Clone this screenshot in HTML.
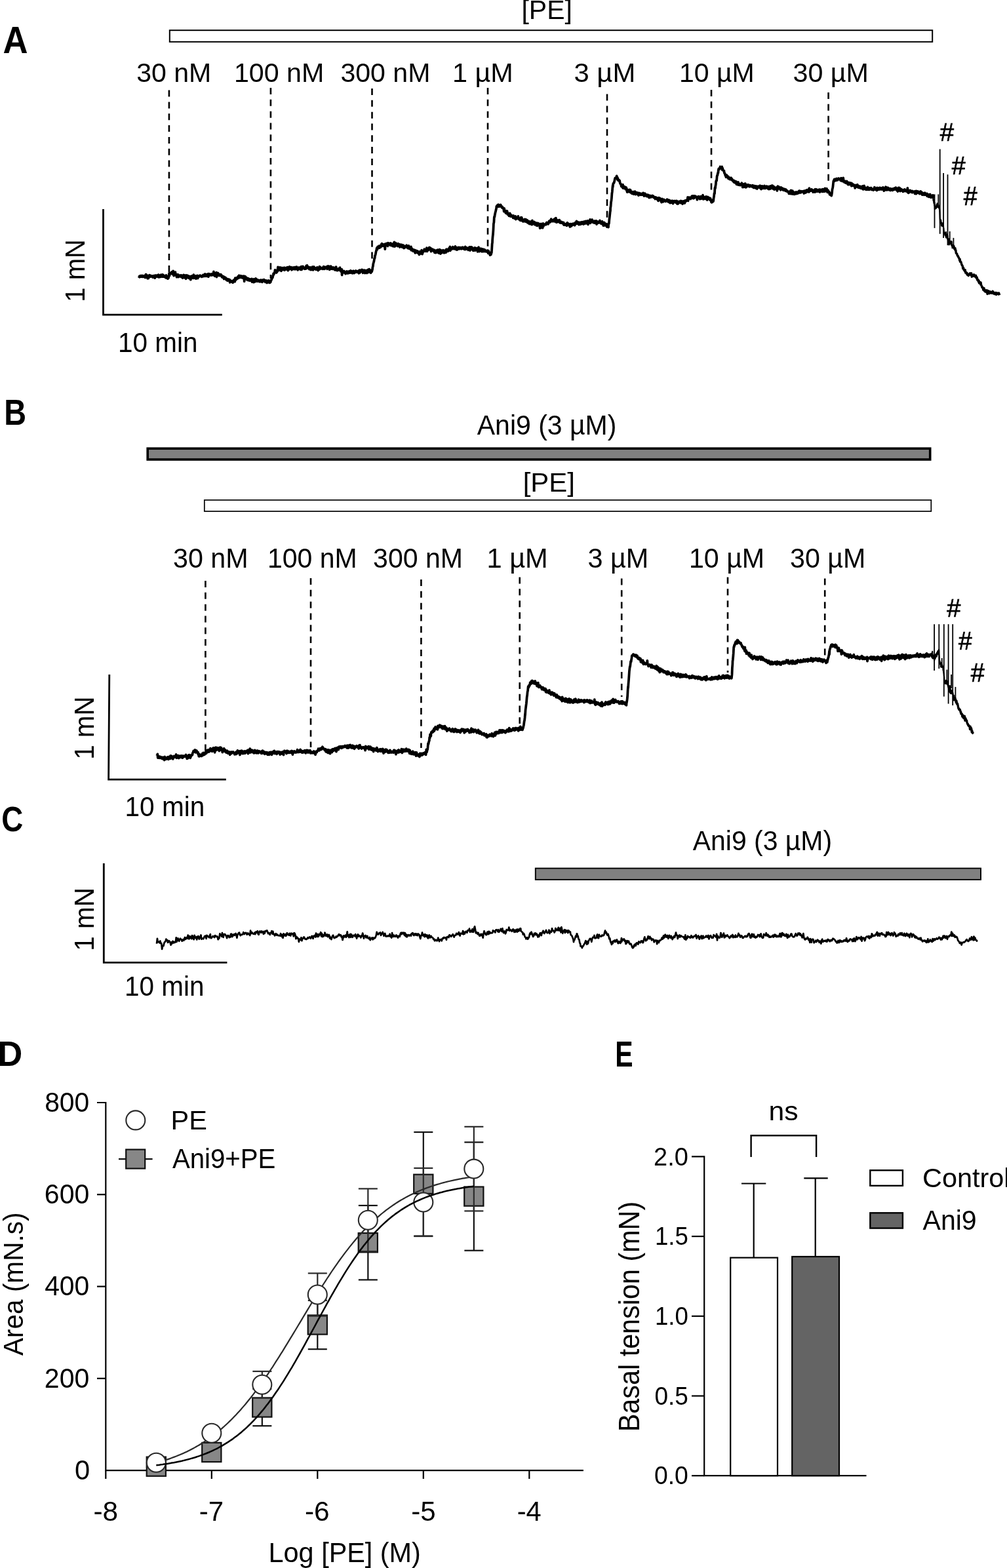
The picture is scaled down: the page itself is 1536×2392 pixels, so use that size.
<!DOCTYPE html><html><head><meta charset="utf-8"><style>html,body{margin:0;padding:0;background:#fff;overflow:hidden;}svg{display:block;}text{font-family:"Liberation Sans",Arial,sans-serif;}</style></head><body>
<svg width="1536" height="2392" viewBox="0 0 1536 2392">
<rect width="1536" height="2392" fill="#fff"/>
<text transform="translate(4.38,81.00) scale(0.9288,1)" font-size="56.73" font-weight="bold" fill="#000">A</text>
<text transform="translate(795.43,28.90) scale(1.0096,1)" font-size="40.58" fill="#000">[PE]</text>
<rect x="258.8" y="46.2" width="1163.4" height="17.6" fill="#fff" stroke="#000" stroke-width="2.0"/>
<text transform="translate(208.26,125.10) scale(0.9903,1)" font-size="41.45" fill="#000">30 nM</text>
<text transform="translate(356.91,125.10) scale(0.9945,1)" font-size="41.45" fill="#000">100 nM</text>
<text transform="translate(519.46,125.10) scale(0.9904,1)" font-size="41.45" fill="#000">300 nM</text>
<text transform="translate(689.90,125.10) scale(0.9985,1)" font-size="41.45" fill="#000">1 µM</text>
<text transform="translate(875.43,125.10) scale(1.0092,1)" font-size="41.45" fill="#000">3 µM</text>
<text transform="translate(1035.92,125.10) scale(0.9896,1)" font-size="41.45" fill="#000">10 µM</text>
<text transform="translate(1209.45,125.10) scale(0.9955,1)" font-size="41.45" fill="#000">30 µM</text>
<line x1="257.9" y1="137.6" x2="257.9" y2="415" stroke="#000" stroke-width="2.6" stroke-dasharray="10 7.82"/>
<line x1="412.9" y1="134" x2="412.9" y2="425" stroke="#000" stroke-width="2.6" stroke-dasharray="10 7.82"/>
<line x1="567.5" y1="135" x2="567.5" y2="398" stroke="#000" stroke-width="2.6" stroke-dasharray="10 7.82"/>
<line x1="744" y1="134" x2="744" y2="382" stroke="#000" stroke-width="2.6" stroke-dasharray="10 7.82"/>
<line x1="926" y1="143.6" x2="926" y2="338" stroke="#000" stroke-width="2.6" stroke-dasharray="10 7.82"/>
<line x1="1085" y1="137" x2="1085" y2="292" stroke="#000" stroke-width="2.6" stroke-dasharray="10 7.82"/>
<line x1="1263.6" y1="141" x2="1263.6" y2="276" stroke="#000" stroke-width="2.6" stroke-dasharray="10 7.82"/>
<path d="M157.5,319 V480.2 H338.8" fill="none" stroke="#000" stroke-width="2.8"/>
<text transform="translate(128.90,460.70) rotate(-90) scale(0.9228,1)" font-size="43.35">1 mN</text>
<text transform="translate(179.97,537.00) scale(0.9525,1)" font-size="42.47" fill="#000">10 min</text>
<path d="M211.6,421.4 212.0,422.1 212.5,421.5 212.9,422.7 213.4,421.5 213.8,421.8 214.3,420.6 214.7,422.1 215.2,421.8 215.6,421.8 216.1,421.5 216.5,422.2 217.0,420.5 217.4,421.3 217.9,420.9 218.3,422.4 218.8,421.7 219.2,421.3 219.7,420.7 220.1,421.4 220.6,421.7 221.0,421.4 221.5,423.5 221.9,423.1 222.4,418.6 222.8,418.8 223.3,421.6 223.7,421.3 224.2,422.2 224.6,422.2 225.1,424.7 225.5,420.5 226.0,421.5 226.4,424.6 226.9,422.8 227.3,422.8 227.8,421.3 228.2,419.8 228.7,422.2 229.1,422.1 229.6,420.4 230.0,421.1 230.0,421.9 230.5,420.8 230.9,421.9 231.4,421.9 231.8,422.0 232.3,421.3 232.7,422.7 233.2,423.1 233.6,422.3 234.1,420.8 234.5,422.8 235.0,421.2 235.4,423.0 235.9,420.4 236.3,424.2 236.8,421.7 237.2,420.1 237.7,421.3 238.1,421.7 238.6,422.0 239.0,420.3 239.5,420.1 239.9,421.8 240.4,420.9 240.8,421.7 241.3,422.4 241.7,419.2 242.2,421.7 242.6,422.9 243.1,420.9 243.5,420.2 244.0,422.2 244.4,421.5 244.9,422.3 245.3,420.7 245.8,419.2 246.2,420.9 246.7,420.5 247.1,422.1 247.6,421.3 248.0,418.9 248.5,419.5 248.9,422.2 249.4,421.9 249.8,420.2 250.0,421.0 250.3,421.6 250.7,421.7 251.2,422.5 251.6,421.9 252.1,421.7 252.5,421.8 253.0,423.9 253.4,419.9 253.9,423.0 254.3,423.5 254.8,421.8 255.2,424.3 255.7,423.1 256.0,425.1 256.1,423.8 256.6,423.9 257.0,424.1 257.5,420.6 257.9,417.9 258.0,417.0 258.4,420.8 258.8,417.9 259.3,416.6 259.7,417.3 260.2,416.5 260.6,417.5 261.1,416.2 261.5,416.1 262.0,415.1 262.0,416.6 262.4,414.7 262.9,417.0 263.3,418.2 263.8,414.5 264.2,413.5 264.7,417.7 265.1,420.5 265.6,416.2 266.0,416.2 266.5,418.9 266.9,417.3 267.4,415.1 267.8,418.5 268.3,420.0 268.7,419.0 269.2,420.1 269.6,422.7 270.0,418.9 270.1,419.6 270.5,418.9 271.0,420.3 271.4,418.9 271.9,419.0 272.3,422.5 272.8,420.6 273.2,420.7 273.7,421.5 274.1,420.4 274.6,420.8 275.0,421.7 275.5,421.6 275.9,419.9 276.4,422.5 276.8,420.8 277.3,420.3 277.7,420.6 278.2,421.3 278.6,424.0 279.1,421.0 279.5,422.3 280.0,419.3 280.4,423.1 280.9,423.4 281.3,422.0 281.8,421.6 282.2,422.8 282.7,420.0 283.1,423.4 283.6,425.2 284.0,422.9 284.5,421.9 284.9,419.9 285.4,422.7 285.8,423.0 286.3,422.8 286.7,423.1 287.2,420.8 287.6,424.0 288.1,422.2 288.5,421.5 289.0,423.8 289.4,424.7 289.9,423.6 290.0,423.2 290.3,421.8 290.8,426.7 291.2,424.1 291.7,421.5 292.1,421.9 292.6,423.1 293.0,420.9 293.5,423.1 293.9,422.3 294.4,424.4 294.8,424.1 295.3,419.2 295.7,422.8 296.2,420.6 296.6,424.1 297.1,422.8 297.5,423.3 298.0,421.1 298.4,424.8 298.9,425.0 299.3,421.0 299.8,422.8 300.2,421.4 300.7,424.0 301.1,420.5 301.6,424.5 302.0,420.8 302.5,422.7 302.9,422.6 303.4,421.0 303.8,421.5 304.3,421.0 304.7,421.5 305.2,420.1 305.6,421.0 306.1,421.2 306.5,421.0 307.0,421.4 307.4,420.9 307.9,422.2 308.3,420.8 308.8,421.0 309.2,420.2 309.7,420.3 310.0,419.4 310.1,421.7 310.6,419.4 311.0,419.9 311.5,421.3 311.9,421.3 312.4,420.2 312.8,418.0 313.3,421.1 313.7,420.8 314.2,418.6 314.6,421.4 315.1,419.4 315.5,418.7 316.0,420.3 316.4,419.8 316.9,420.2 317.3,417.8 317.8,422.2 318.2,419.0 318.7,417.7 319.1,420.4 319.6,419.1 320.0,419.9 320.5,419.0 320.9,419.2 321.4,419.6 321.8,418.2 322.3,420.0 322.7,418.5 323.2,417.9 323.6,419.0 324.1,419.5 324.5,418.5 325.0,417.7 325.4,419.5 325.9,414.5 326.3,417.3 326.8,418.7 327.2,416.8 327.7,421.2 328.1,418.5 328.6,419.7 329.0,417.3 329.5,417.7 329.9,418.9 330.0,415.7 330.4,422.5 330.8,417.6 331.3,417.6 331.7,419.8 332.2,418.7 332.6,416.5 333.1,419.8 333.5,420.2 334.0,418.7 334.4,419.0 334.9,420.2 335.3,418.6 335.8,420.5 336.2,420.4 336.7,419.5 337.1,418.8 337.6,420.6 338.0,420.0 338.5,422.6 338.9,421.8 339.4,422.9 339.8,422.3 340.3,422.7 340.7,421.6 341.2,423.8 341.6,425.5 342.1,423.0 342.5,422.9 343.0,423.7 343.4,423.5 343.9,423.5 344.3,424.8 344.8,424.5 345.0,426.9 345.2,425.1 345.7,425.8 346.1,426.9 346.6,425.6 347.0,428.2 347.5,425.9 347.9,426.0 348.4,426.9 348.8,427.6 349.3,426.3 349.7,428.4 350.2,426.6 350.6,430.8 351.1,429.2 351.5,428.7 352.0,428.5 352.4,429.3 352.9,429.7 353.3,428.6 353.5,428.8 353.8,429.3 354.2,429.2 354.7,431.0 355.1,431.1 355.6,429.5 356.0,429.8 356.5,427.2 356.9,429.5 357.4,428.5 357.8,428.6 358.3,429.6 358.7,424.2 359.2,427.1 359.6,424.9 360.1,426.7 360.5,423.8 361.0,424.5 361.4,425.0 361.9,425.1 362.3,424.1 362.8,422.6 363.2,421.7 363.7,424.2 364.1,422.7 364.6,420.3 365.0,423.4 365.5,422.7 365.9,423.2 366.4,421.6 366.6,423.1 366.8,420.6 367.3,422.8 367.7,421.4 368.2,423.0 368.6,423.5 369.1,421.3 369.5,422.3 370.0,422.5 370.4,424.1 370.9,423.6 371.3,421.2 371.8,423.6 372.2,424.1 372.7,429.2 373.1,421.3 373.6,422.9 374.0,425.5 374.5,422.2 374.9,422.8 375.4,425.1 375.8,425.9 376.3,423.9 376.7,425.7 377.2,425.3 377.6,427.3 378.1,425.6 378.5,427.1 379.0,424.8 379.4,425.9 379.9,426.2 380.3,428.0 380.8,427.4 381.2,425.9 381.7,427.9 382.1,428.1 382.6,427.1 383.0,427.1 383.5,427.3 383.9,425.4 384.4,430.0 384.8,428.1 385.3,426.8 385.7,428.9 386.2,426.2 386.6,427.3 387.0,427.4 387.1,430.6 387.5,425.9 388.0,428.7 388.4,429.2 388.9,428.5 389.3,429.5 389.8,426.7 390.2,425.0 390.7,429.0 391.1,426.4 391.6,427.6 392.0,426.5 392.5,426.6 392.9,429.1 393.4,427.1 393.8,429.2 394.3,428.2 394.7,427.8 395.2,428.1 395.6,427.7 396.1,428.8 396.5,429.7 397.0,427.5 397.4,429.3 397.9,427.2 398.3,428.4 398.8,428.5 399.2,429.9 399.7,427.3 400.0,430.3 400.1,428.2 400.6,427.8 401.0,427.2 401.5,428.8 401.9,428.1 402.4,426.7 402.8,426.7 403.3,427.5 403.7,427.4 404.2,429.7 404.6,430.2 405.1,429.6 405.5,429.0 406.0,428.0 406.4,428.7 406.9,429.8 407.3,431.5 407.8,430.0 408.2,428.5 408.7,428.9 409.1,428.3 409.6,427.9 410.0,428.7 410.5,429.2 410.9,431.4 411.0,429.1 411.4,430.7 411.8,431.1 412.3,428.6 412.7,430.3 413.0,428.9 413.2,427.3 413.6,427.7 414.1,426.7 414.5,425.5 415.0,424.6 415.4,423.9 415.9,423.2 416.3,420.3 416.8,420.3 417.2,417.1 417.7,418.3 418.1,417.8 418.6,416.2 419.0,415.6 419.5,412.0 419.9,413.2 420.0,413.7 420.4,414.3 420.8,414.6 421.3,413.5 421.7,416.0 422.2,412.3 422.6,414.9 423.1,413.5 423.5,411.5 424.0,407.5 424.4,409.7 424.9,411.3 425.3,412.4 425.8,411.2 426.2,411.0 426.5,410.2 426.7,411.4 427.1,407.9 427.6,410.9 428.0,410.6 428.5,408.7 428.9,413.3 429.4,408.6 429.8,408.9 430.3,408.7 430.7,411.7 431.2,409.1 431.6,411.0 432.1,410.9 432.5,410.9 433.0,408.4 433.4,409.2 433.9,412.2 434.3,408.3 434.8,408.8 435.2,409.7 435.7,410.9 436.1,410.1 436.6,410.7 437.0,408.4 437.5,410.9 437.9,410.4 438.4,407.6 438.8,411.6 439.3,412.6 439.7,408.6 440.2,409.6 440.6,411.3 441.1,407.6 441.5,406.9 442.0,407.8 442.4,408.7 442.9,408.6 443.3,410.2 443.8,409.7 444.2,407.7 444.7,410.0 445.1,411.7 445.6,410.8 446.0,410.5 446.5,409.3 446.9,410.5 447.4,408.0 447.8,410.2 448.3,409.1 448.7,410.6 449.2,409.8 449.6,407.7 450.1,409.3 450.5,410.7 451.0,407.6 451.4,408.4 451.9,408.1 452.3,407.1 452.8,410.3 453.2,410.8 453.7,410.1 454.1,411.8 454.6,409.0 455.0,409.3 455.5,408.1 455.9,410.2 456.4,410.4 456.8,410.2 457.3,408.3 457.7,409.1 458.2,408.8 458.6,411.3 459.1,409.2 459.5,406.6 460.0,409.5 460.0,411.4 460.4,409.9 460.9,410.1 461.3,409.0 461.8,406.4 462.2,406.6 462.7,407.4 463.1,408.8 463.6,409.4 464.0,409.9 464.5,408.6 464.9,410.2 465.4,408.6 465.8,408.1 466.3,410.1 466.7,407.8 467.2,405.5 467.6,407.6 468.1,409.1 468.5,405.0 469.0,408.5 469.4,408.6 469.9,407.1 470.3,407.1 470.8,409.2 471.2,408.3 471.7,410.6 472.1,409.5 472.6,408.5 473.0,407.9 473.5,407.9 473.9,411.5 474.4,409.5 474.8,409.4 475.3,411.4 475.7,409.0 476.2,408.6 476.6,407.2 477.1,408.3 477.5,411.8 478.0,407.2 478.4,409.0 478.9,407.2 479.3,409.2 479.8,410.2 480.2,408.7 480.7,409.9 481.1,409.9 481.6,409.6 482.0,411.2 482.5,410.0 482.9,408.6 483.4,408.1 483.8,407.9 484.3,409.6 484.7,408.6 485.2,412.5 485.6,411.4 486.1,408.7 486.5,408.6 487.0,411.2 487.4,406.6 487.9,408.4 488.3,410.2 488.8,407.8 489.2,408.4 489.7,408.5 490.1,409.9 490.6,409.2 491.0,409.5 491.5,409.8 491.9,409.0 492.4,410.4 492.8,408.1 493.3,407.1 493.7,406.7 494.2,406.9 494.6,408.3 495.1,410.3 495.5,409.2 496.0,408.2 496.4,407.6 496.9,408.3 497.3,408.5 497.8,408.3 498.2,407.1 498.7,408.4 499.1,410.3 499.6,406.2 500.0,408.7 500.5,406.2 500.9,409.2 501.4,408.0 501.8,406.3 502.3,409.1 502.7,411.4 503.2,409.1 503.6,410.5 504.1,408.9 504.5,406.2 504.6,409.6 505.0,408.5 505.4,407.1 505.9,410.1 506.3,409.5 506.8,408.5 507.2,410.3 507.7,408.2 508.1,410.2 508.6,408.3 509.0,410.3 509.5,408.3 509.9,409.9 510.4,410.3 510.8,411.9 511.3,409.1 511.7,409.7 512.2,411.6 512.6,407.1 513.1,409.5 513.5,412.3 514.0,411.8 514.4,412.6 514.9,411.1 515.3,412.4 515.8,410.9 516.2,410.3 516.7,410.0 517.1,411.7 517.6,411.9 518.0,408.6 518.5,408.3 518.9,410.5 519.4,412.6 519.8,413.8 520.3,412.9 520.7,412.7 521.2,410.9 521.6,419.5 522.1,412.8 522.5,416.6 523.0,416.5 523.4,415.0 523.9,414.0 524.3,415.0 524.8,413.5 525.2,415.4 525.7,415.1 526.1,415.9 526.6,416.5 527.0,417.6 527.5,414.9 527.9,416.7 528.4,414.4 528.6,414.2 528.8,414.6 529.3,414.1 529.7,416.7 530.2,416.6 530.6,417.0 531.1,415.3 531.5,415.7 532.0,414.6 532.4,413.9 532.9,416.3 533.3,415.7 533.8,413.9 534.2,416.1 534.7,413.0 535.1,415.0 535.6,414.4 536.0,414.6 536.5,413.8 536.9,416.5 537.4,415.9 537.8,416.7 538.3,415.3 538.7,413.4 539.2,414.6 539.6,413.5 540.1,415.6 540.5,416.6 541.0,415.4 541.4,414.2 541.9,414.5 542.3,415.2 542.8,413.0 543.2,415.1 543.7,415.1 544.1,414.1 544.6,414.3 545.0,415.0 545.5,413.7 545.9,413.7 546.4,415.7 546.8,415.0 547.3,416.8 547.7,413.3 548.2,412.3 548.6,415.8 549.1,415.8 549.5,413.6 550.0,412.6 550.4,414.4 550.9,412.2 551.3,414.0 551.8,411.5 552.2,414.0 552.7,411.6 553.1,414.0 553.6,416.3 554.0,413.9 554.5,415.2 554.9,413.4 555.4,413.0 555.8,412.2 556.3,415.5 556.7,416.5 557.2,416.2 557.6,412.6 558.1,413.8 558.5,414.2 559.0,415.9 559.4,416.4 559.9,413.2 560.3,412.5 560.8,411.7 561.2,415.7 561.7,413.9 562.1,413.1 562.6,413.9 563.0,410.6 563.5,411.7 563.9,415.2 564.4,414.4 564.8,414.1 565.0,412.6 565.3,414.7 565.7,416.2 566.2,412.3 566.6,414.0 567.0,413.4 567.1,414.4 567.5,413.1 568.0,411.1 568.4,407.7 568.9,406.0 569.3,402.5 569.8,400.7 570.0,399.8 570.2,399.7 570.7,396.7 571.1,394.3 571.6,393.9 572.0,390.1 572.5,389.2 572.9,387.4 573.4,384.7 573.8,382.8 574.3,381.6 574.7,378.5 575.2,379.9 575.5,380.7 575.6,379.6 576.1,376.4 576.5,378.4 577.0,376.5 577.4,377.0 577.9,377.2 578.3,375.1 578.8,378.1 579.2,376.0 579.7,376.8 580.1,376.4 580.6,377.0 581.0,376.6 581.5,372.9 581.9,374.6 582.4,371.6 582.8,373.5 583.3,374.4 583.7,374.9 584.2,375.3 584.6,372.9 585.1,373.7 585.5,373.3 586.0,374.7 586.4,375.0 586.9,372.3 587.3,380.1 587.8,372.6 588.2,372.1 588.7,373.3 589.1,373.4 589.6,373.1 590.0,371.5 590.5,374.3 590.9,372.4 591.0,374.4 591.4,375.4 591.8,370.7 592.3,371.1 592.7,371.1 593.2,372.7 593.6,372.5 594.1,372.8 594.5,371.4 595.0,373.0 595.4,374.3 595.9,370.8 596.3,372.3 596.8,372.9 597.2,372.5 597.7,372.4 598.1,375.0 598.6,374.5 599.0,373.9 599.5,371.9 599.9,375.9 600.4,373.5 600.8,372.3 601.3,369.3 601.7,372.5 602.2,376.0 602.6,373.6 603.1,373.5 603.5,370.6 604.0,374.5 604.4,372.2 604.9,372.2 605.3,374.5 605.8,372.7 606.2,375.0 606.7,375.4 607.1,371.7 607.6,374.0 608.0,372.2 608.5,374.3 608.9,375.6 609.4,372.8 609.8,377.0 610.3,374.3 610.7,373.3 611.2,374.7 611.6,376.0 612.1,373.3 612.5,375.2 613.0,373.5 613.4,377.0 613.9,375.7 614.3,375.1 614.8,377.1 615.2,374.2 615.7,375.4 616.1,378.5 616.6,376.0 617.0,378.1 617.5,376.7 617.9,375.6 618.4,376.3 618.8,376.8 619.3,376.3 619.7,375.9 620.2,374.2 620.6,375.3 621.1,377.5 621.5,378.0 622.0,378.5 622.4,375.3 622.9,378.9 623.3,375.0 623.8,376.2 624.2,378.3 624.7,379.3 625.0,379.1 625.1,379.4 625.6,379.8 626.0,379.9 626.5,378.8 626.9,376.4 627.4,381.8 627.8,380.0 628.3,379.1 628.7,380.9 629.2,381.3 629.6,380.6 630.1,383.2 630.5,383.2 631.0,382.5 631.4,381.0 631.9,382.6 632.3,382.9 632.8,381.6 633.2,385.9 633.7,382.0 634.1,383.3 634.6,382.4 635.0,383.5 635.5,383.5 635.9,382.8 636.4,385.3 636.8,383.0 637.3,383.5 637.7,386.1 638.2,386.4 638.6,386.1 639.1,385.8 639.5,388.4 640.0,383.9 640.4,384.5 640.6,384.2 640.9,386.6 641.3,385.8 641.8,386.8 642.2,386.6 642.7,384.9 643.1,381.7 643.6,383.6 644.0,387.6 644.5,385.9 644.9,385.2 645.4,383.8 645.8,383.7 646.3,383.3 646.7,383.1 647.2,380.2 647.6,383.0 648.1,382.3 648.5,383.0 649.0,382.6 649.4,383.2 649.9,381.9 650.3,382.7 650.8,378.1 651.2,381.0 651.7,383.3 652.1,379.3 652.6,380.3 653.0,381.4 653.5,379.2 653.9,381.2 654.4,378.3 654.8,377.6 655.3,378.3 655.7,377.8 656.0,380.0 656.2,379.6 656.6,380.4 657.1,378.7 657.5,383.5 658.0,380.2 658.4,380.4 658.9,381.2 659.3,380.5 659.8,380.2 660.2,381.3 660.7,382.7 661.1,382.6 661.6,383.2 662.0,381.5 662.5,381.5 662.9,385.3 663.4,382.7 663.8,383.9 664.3,384.5 664.7,385.6 665.2,382.2 665.6,383.5 666.1,383.8 666.5,384.1 667.0,381.5 667.4,384.7 667.9,381.1 668.3,385.3 668.8,385.7 669.0,385.8 669.2,383.4 669.7,386.2 670.1,383.8 670.6,380.6 671.0,383.6 671.5,383.7 671.9,387.0 672.4,385.8 672.8,381.9 673.3,383.8 673.7,385.6 674.2,384.6 674.6,384.9 675.1,382.1 675.5,383.3 676.0,381.8 676.4,383.9 676.9,385.3 677.3,385.8 677.8,383.9 678.2,384.2 678.7,382.1 679.1,382.1 679.6,384.1 680.0,385.2 680.5,382.1 680.9,380.3 681.4,382.1 681.8,382.6 682.3,380.6 682.7,380.8 683.2,383.3 683.6,381.3 684.1,380.5 684.5,379.3 685.0,379.8 685.4,380.1 685.9,382.0 686.3,376.4 686.8,382.3 687.2,378.6 687.7,379.2 688.1,380.6 688.6,379.1 689.0,378.2 689.5,379.0 689.9,379.6 690.4,376.7 690.8,378.5 691.3,378.6 691.7,378.2 692.2,379.6 692.6,377.8 693.1,378.0 693.5,378.5 694.0,379.4 694.4,375.9 694.9,380.4 695.0,377.2 695.3,380.1 695.8,377.3 696.2,378.2 696.7,378.9 697.1,381.1 697.6,379.6 698.0,377.9 698.5,380.1 698.9,378.1 699.4,377.4 699.8,379.0 700.3,378.6 700.7,379.7 701.2,377.7 701.6,379.0 702.1,379.3 702.5,378.9 703.0,378.5 703.4,377.6 703.9,379.7 704.3,378.7 704.8,379.2 705.2,378.1 705.7,378.6 706.1,377.3 706.6,378.7 707.0,379.6 707.5,378.8 707.9,379.8 708.4,379.1 708.8,380.5 709.3,378.5 709.7,376.3 710.2,379.4 710.6,380.3 711.1,377.6 711.5,379.7 712.0,379.3 712.4,379.5 712.9,378.5 713.3,379.3 713.8,379.4 714.2,381.4 714.7,378.2 715.1,379.1 715.6,379.6 716.0,377.0 716.5,377.2 716.9,382.1 717.4,377.0 717.8,380.1 718.3,378.3 718.7,378.5 719.2,376.9 719.6,378.4 720.1,380.6 720.5,377.8 721.0,380.5 721.4,380.1 721.9,382.4 722.3,379.2 722.8,381.5 723.2,381.1 723.7,379.6 724.1,377.9 724.6,382.1 725.0,378.4 725.5,379.6 725.9,381.4 726.4,378.7 726.8,379.3 727.3,380.4 727.7,380.2 728.2,382.1 728.6,383.9 729.1,378.4 729.5,382.0 730.0,377.2 730.4,381.0 730.9,379.6 731.3,383.7 731.8,381.4 732.2,380.3 732.7,380.7 733.1,380.7 733.6,379.2 734.0,381.4 734.5,382.5 734.9,383.8 735.4,382.8 735.8,380.3 736.3,379.9 736.7,381.1 737.2,383.6 737.6,381.9 738.1,381.5 738.5,382.7 739.0,380.8 739.4,381.2 739.9,383.5 740.3,382.5 740.8,382.4 741.2,383.5 741.7,382.5 742.1,382.4 742.6,382.8 743.0,384.3 743.5,383.7 743.9,382.2 744.4,383.5 744.8,384.8 744.8,386.4 745.3,382.8 745.7,385.2 746.2,385.0 746.6,387.1 747.1,387.2 747.5,389.1 748.0,388.4 748.4,387.2 748.7,387.3 748.9,388.3 749.3,386.3 749.8,385.3 750.2,379.9 750.7,371.5 751.0,370.5 751.1,366.7 751.6,360.7 752.0,357.3 752.5,350.1 752.9,341.4 753.4,339.2 753.8,331.7 754.0,330.5 754.3,331.3 754.7,328.4 755.2,325.8 755.6,323.9 756.1,322.3 756.5,320.1 757.0,318.4 757.4,314.8 757.9,314.2 758.3,315.6 758.8,313.0 759.2,314.0 759.7,314.4 760.1,312.1 760.4,312.9 760.6,315.2 761.0,313.5 761.5,315.1 761.9,314.8 762.4,314.0 762.8,313.1 763.3,312.5 763.7,312.5 764.2,314.9 764.6,315.3 765.1,314.9 765.5,316.7 766.0,315.3 766.4,315.9 766.9,317.1 767.3,317.6 767.8,318.2 768.2,318.6 768.7,322.5 769.1,317.8 769.6,320.7 770.0,322.7 770.5,322.5 770.9,321.8 771.4,325.0 771.8,321.9 772.3,321.8 772.7,325.0 773.2,322.8 773.6,322.1 774.1,326.8 774.5,327.0 775.0,327.3 775.4,326.0 775.9,327.2 776.0,325.7 776.3,329.4 776.8,328.5 777.2,328.6 777.7,325.4 778.1,329.2 778.6,326.9 779.0,330.2 779.5,329.8 779.9,329.0 780.4,328.8 780.8,330.2 781.3,330.2 781.7,330.2 782.2,329.7 782.6,332.4 783.1,328.9 783.5,330.6 784.0,330.1 784.4,332.4 784.9,333.1 785.3,333.0 785.8,332.6 786.2,329.9 786.7,334.6 787.1,332.8 787.6,332.1 788.0,332.5 788.5,332.2 788.9,333.3 789.4,333.3 789.8,332.6 790.3,329.9 790.7,333.4 791.2,334.3 791.6,334.4 792.1,333.7 792.5,334.6 793.0,335.5 793.4,333.7 793.9,336.4 794.3,332.0 794.8,333.1 795.2,333.7 795.7,331.8 796.1,333.9 796.6,336.9 797.0,337.0 797.5,336.2 797.9,337.9 798.4,336.1 798.8,335.3 799.3,336.4 799.7,336.1 800.2,337.3 800.6,334.5 801.1,337.9 801.5,336.2 802.0,338.0 802.4,335.0 802.9,336.8 803.3,337.4 803.8,338.6 804.2,336.0 804.7,339.8 805.1,338.4 805.6,337.2 806.0,339.6 806.5,338.3 806.9,339.8 807.4,341.5 807.8,339.6 808.3,338.0 808.7,338.3 809.2,339.7 809.6,341.7 810.1,338.2 810.5,338.5 811.0,340.4 811.4,342.7 811.9,336.4 812.3,340.9 812.5,339.7 812.8,341.1 813.2,339.7 813.7,340.5 814.1,339.2 814.6,338.9 815.0,338.5 815.5,342.7 815.9,341.0 816.4,340.7 816.8,341.2 817.3,340.0 817.7,342.3 818.2,343.8 818.6,340.5 819.1,340.4 819.5,344.4 820.0,343.9 820.4,340.4 820.9,341.4 821.3,341.9 821.8,343.3 822.2,342.1 822.7,341.5 823.1,343.2 823.6,348.1 824.0,342.8 824.5,344.4 824.9,343.9 825.4,347.3 825.5,341.3 825.8,345.2 826.3,342.1 826.7,342.9 827.2,343.5 827.6,347.7 828.1,342.5 828.5,341.0 829.0,344.9 829.4,342.0 829.9,342.6 830.3,342.7 830.8,342.6 831.2,342.1 831.7,342.4 832.1,342.4 832.6,342.8 833.0,340.8 833.5,340.2 833.9,339.5 834.4,341.4 834.8,340.4 835.3,340.9 835.7,340.6 836.2,341.8 836.6,339.7 837.1,340.1 837.5,337.3 838.0,337.2 838.4,338.0 838.9,336.6 839.3,338.8 839.8,336.0 840.2,337.6 840.7,334.1 841.1,335.7 841.6,336.5 842.0,336.4 842.5,337.6 842.9,336.6 843.4,337.6 843.8,337.1 844.3,335.3 844.7,335.3 845.2,334.5 845.6,336.8 846.0,337.9 846.1,335.3 846.5,333.8 847.0,336.3 847.4,337.0 847.9,332.7 848.3,336.5 848.8,339.2 849.2,337.6 849.7,337.4 850.1,337.3 850.6,338.4 851.0,336.0 851.5,336.3 851.9,338.1 852.4,336.9 852.8,338.3 853.3,335.7 853.7,339.4 854.2,339.8 854.6,339.0 855.1,339.4 855.5,339.9 856.0,338.2 856.4,338.7 856.9,338.7 857.3,339.8 857.8,339.2 858.2,340.8 858.7,340.1 859.1,339.3 859.6,339.3 860.0,343.1 860.5,341.6 860.9,341.6 861.4,342.0 861.8,342.0 862.3,343.2 862.7,343.1 863.2,341.6 863.6,341.4 864.1,341.1 864.5,340.9 864.6,344.3 865.0,341.3 865.4,339.9 865.9,341.4 866.3,341.4 866.8,342.9 867.2,341.3 867.7,343.1 868.1,342.9 868.6,344.0 869.0,345.2 869.5,346.0 869.9,344.0 870.4,341.7 870.8,341.7 871.3,342.5 871.7,344.8 872.2,342.9 872.6,343.6 873.1,341.7 873.5,342.7 874.0,342.8 874.4,341.2 874.9,342.8 875.3,343.1 875.8,341.4 876.2,342.9 876.7,343.7 877.1,341.5 877.6,339.6 878.0,340.9 878.5,340.4 878.9,341.4 879.4,337.3 879.8,340.6 880.3,340.0 880.7,338.9 881.2,339.6 881.6,341.2 882.1,339.2 882.5,339.8 883.0,342.7 883.4,341.9 883.9,339.5 884.3,341.1 884.8,339.4 885.2,342.3 885.7,339.4 886.1,340.2 886.6,341.8 887.0,338.8 887.5,341.5 887.9,338.7 888.4,340.0 888.8,339.3 889.3,339.5 889.7,339.7 890.2,342.0 890.6,338.1 891.1,340.5 891.5,340.2 892.0,340.9 892.4,341.0 892.9,337.4 893.3,340.7 893.8,340.7 894.2,338.3 894.7,340.3 895.1,340.8 895.6,338.1 896.0,337.0 896.5,338.3 896.9,342.4 897.4,339.0 897.8,337.1 898.3,338.3 898.7,337.4 899.2,338.1 899.6,338.7 900.0,334.9 900.1,339.1 900.5,340.4 901.0,338.3 901.4,338.1 901.9,338.0 902.3,336.9 902.8,336.9 903.2,335.2 903.7,338.3 904.1,339.0 904.6,338.4 905.0,339.2 905.5,339.6 905.9,339.1 906.0,337.4 906.4,338.2 906.8,340.1 907.3,337.2 907.7,338.2 908.2,338.0 908.6,338.4 909.1,337.3 909.5,336.9 910.0,342.1 910.4,340.0 910.9,337.9 911.3,338.9 911.8,339.9 912.2,338.6 912.7,340.0 913.1,338.5 913.6,338.9 914.0,339.4 914.5,339.0 914.9,336.5 915.4,339.8 915.8,340.2 916.3,340.6 916.7,338.9 917.2,341.3 917.6,340.7 918.1,338.2 918.5,337.8 919.0,341.4 919.4,339.7 919.9,342.4 920.3,344.1 920.8,340.7 921.2,340.7 921.7,339.4 922.1,342.8 922.6,340.6 923.0,343.9 923.5,343.1 923.9,343.4 924.4,342.1 924.8,344.1 925.0,344.1 925.3,341.6 925.7,346.2 926.2,343.5 926.6,344.8 927.1,344.0 927.5,345.4 928.0,346.5 928.0,344.0 928.4,341.8 928.9,340.7 929.3,335.6 929.8,331.6 930.2,327.5 930.7,322.8 931.0,321.7 931.1,317.3 931.6,314.6 932.0,308.6 932.5,306.1 932.9,302.6 933.4,295.1 933.8,292.7 934.3,286.5 934.7,282.9 934.7,285.6 935.2,280.8 935.6,279.8 936.1,279.0 936.5,279.1 937.0,277.0 937.4,275.4 937.9,273.0 938.3,271.6 938.8,271.8 939.2,271.4 939.7,271.2 940.0,271.3 940.1,270.7 940.6,268.4 941.0,269.7 941.5,270.4 941.9,274.1 942.4,271.8 942.8,273.9 943.3,275.5 943.7,274.8 944.2,274.6 944.6,275.5 945.1,275.4 945.5,278.0 946.0,279.9 946.4,280.0 946.9,281.1 947.3,281.9 947.8,284.3 948.2,281.6 948.7,283.3 949.1,284.7 949.6,285.9 950.0,281.6 950.3,284.3 950.5,287.0 950.9,284.2 951.4,287.0 951.8,286.5 952.3,286.1 952.7,284.8 953.2,285.6 953.6,286.3 954.1,288.5 954.5,286.7 955.0,285.9 955.4,287.0 955.9,288.4 956.3,291.7 956.8,293.0 957.2,289.4 957.7,291.6 958.1,292.4 958.6,292.5 959.0,291.0 959.5,289.7 959.9,290.9 960.4,289.4 960.8,292.3 961.3,293.3 961.7,290.0 962.2,292.6 962.6,293.2 963.1,294.6 963.5,295.0 964.0,294.4 964.4,292.6 964.9,293.2 965.3,295.4 965.8,294.0 966.0,293.9 966.2,296.1 966.7,294.6 967.1,292.5 967.6,294.0 968.0,295.4 968.5,292.2 968.9,296.2 969.4,296.5 969.8,294.1 970.3,294.3 970.7,295.0 971.2,293.6 971.6,295.7 972.1,295.1 972.5,296.4 973.0,294.7 973.4,294.4 973.9,298.0 974.3,294.5 974.8,295.0 975.2,294.9 975.7,295.5 976.1,294.8 976.6,296.0 977.0,297.3 977.5,295.6 977.9,296.7 978.4,297.2 978.8,296.9 979.3,295.4 979.7,297.0 980.2,296.3 980.6,296.4 981.1,294.4 981.5,297.6 982.0,296.6 982.4,299.0 982.9,297.7 983.3,295.5 983.8,295.2 984.2,298.6 984.7,296.0 985.1,298.1 985.6,296.9 986.0,299.0 986.5,297.6 986.9,299.5 987.4,299.4 987.8,297.1 988.3,297.4 988.7,299.9 989.0,298.0 989.2,297.8 989.6,299.7 990.1,301.6 990.5,298.4 991.0,300.4 991.4,298.5 991.9,300.6 992.3,298.7 992.8,300.9 993.2,300.0 993.7,299.2 994.1,299.9 994.6,299.1 995.0,298.5 995.5,298.8 995.9,300.2 996.4,299.1 996.8,301.2 997.3,301.5 997.7,301.6 998.2,300.6 998.6,301.5 999.1,301.6 999.5,303.5 1000.0,300.9 1000.4,301.7 1000.9,302.0 1001.3,302.3 1001.8,301.7 1002.2,302.1 1002.7,304.4 1003.1,302.4 1003.6,304.6 1004.0,306.3 1004.5,305.4 1004.9,301.6 1005.4,305.1 1005.8,304.9 1006.3,305.1 1006.7,302.5 1007.2,305.7 1007.6,303.5 1008.1,304.1 1008.5,306.5 1009.0,308.6 1009.4,306.9 1009.9,303.5 1010.3,307.0 1010.8,306.9 1011.2,305.3 1011.7,307.7 1012.1,306.9 1012.6,304.4 1012.8,305.6 1013.0,305.5 1013.5,306.0 1013.9,306.5 1014.4,305.4 1014.8,306.1 1015.3,307.2 1015.7,306.4 1016.2,306.2 1016.6,306.2 1017.1,306.5 1017.5,304.2 1018.0,307.0 1018.4,305.5 1018.9,307.1 1019.3,305.1 1019.8,308.2 1020.2,307.4 1020.7,305.4 1021.1,307.5 1021.6,306.3 1022.0,309.6 1022.5,308.0 1022.9,306.4 1023.4,307.8 1023.8,307.5 1024.3,309.1 1024.7,308.1 1025.2,308.3 1025.6,306.3 1026.1,308.8 1026.5,310.5 1027.0,308.7 1027.4,307.8 1027.9,308.1 1028.3,306.7 1028.8,308.3 1029.2,306.6 1029.7,308.1 1030.1,307.6 1030.6,307.1 1031.0,309.0 1031.5,306.3 1031.9,308.2 1032.4,306.6 1032.8,310.7 1033.3,310.9 1033.7,309.5 1034.2,310.9 1034.6,309.2 1035.1,309.2 1035.5,307.9 1036.0,307.3 1036.4,308.7 1036.9,307.8 1037.3,308.0 1037.8,309.5 1038.2,308.4 1038.7,306.5 1039.1,308.3 1039.6,307.6 1040.0,308.2 1040.5,307.2 1040.9,310.1 1041.0,311.1 1041.4,307.1 1041.8,309.4 1042.3,309.2 1042.7,306.9 1043.2,308.3 1043.6,309.8 1044.1,308.9 1044.5,309.7 1045.0,305.8 1045.4,306.1 1045.9,307.2 1046.3,307.0 1046.8,306.3 1047.2,305.4 1047.7,305.1 1048.1,304.5 1048.6,305.6 1049.0,301.0 1049.5,306.4 1049.9,303.3 1050.4,301.8 1050.8,304.0 1051.3,301.2 1051.7,303.2 1052.2,301.9 1052.6,302.9 1053.1,303.0 1053.5,303.4 1054.0,300.8 1054.4,300.9 1054.9,301.1 1055.3,299.1 1055.8,301.6 1056.2,299.4 1056.7,299.0 1057.0,302.3 1057.1,302.5 1057.6,299.0 1058.0,301.5 1058.5,302.4 1058.9,301.8 1059.4,299.5 1059.8,298.9 1060.3,299.0 1060.7,300.1 1061.2,300.8 1061.6,300.6 1062.1,301.5 1062.5,300.1 1063.0,300.6 1063.4,304.7 1063.9,300.6 1064.3,301.8 1064.8,301.2 1065.2,301.1 1065.7,299.7 1066.1,301.6 1066.6,300.8 1067.0,302.0 1067.5,303.6 1067.9,301.2 1068.4,302.0 1068.8,299.7 1069.3,301.2 1069.7,303.1 1070.2,301.0 1070.6,300.3 1071.1,301.4 1071.5,301.0 1072.0,297.7 1072.4,300.8 1072.9,303.9 1073.3,300.2 1073.8,300.9 1074.2,300.7 1074.7,303.1 1075.1,301.2 1075.6,303.3 1076.0,301.9 1076.5,301.7 1076.9,299.9 1077.4,303.4 1077.8,302.6 1078.3,302.5 1078.7,305.0 1079.2,301.6 1079.6,300.5 1080.1,303.5 1080.5,302.7 1081.0,302.0 1081.4,301.7 1081.9,302.8 1082.3,302.6 1082.8,304.9 1083.0,303.8 1083.2,302.3 1083.7,302.9 1084.1,305.7 1084.6,306.3 1085.0,308.1 1085.0,308.6 1085.5,308.8 1085.9,308.3 1086.4,307.3 1086.8,308.0 1087.3,305.7 1087.7,304.7 1088.0,307.1 1088.2,306.0 1088.6,302.1 1089.1,299.3 1089.5,294.9 1090.0,295.3 1090.4,287.1 1090.9,285.5 1091.0,287.4 1091.3,284.2 1091.8,281.7 1092.2,276.5 1092.7,275.3 1093.1,275.6 1093.6,269.2 1094.0,267.5 1094.5,267.2 1094.8,264.6 1094.9,264.0 1095.4,263.9 1095.8,259.5 1096.3,257.4 1096.7,258.0 1097.2,257.2 1097.6,257.9 1098.1,256.3 1098.5,254.3 1098.8,255.8 1099.0,256.5 1099.4,255.6 1099.9,255.0 1100.3,256.7 1100.8,255.8 1101.2,254.4 1101.7,259.2 1102.1,256.5 1102.6,258.5 1103.0,259.4 1103.5,260.2 1103.9,261.1 1104.4,260.5 1104.8,263.9 1105.3,264.1 1105.7,265.0 1106.2,267.2 1106.6,268.0 1107.1,269.0 1107.5,270.3 1108.0,269.1 1108.4,267.0 1108.9,269.7 1109.0,269.6 1109.3,269.9 1109.8,269.4 1110.2,269.3 1110.7,271.8 1111.1,272.4 1111.6,270.0 1112.0,272.5 1112.5,271.9 1112.9,271.9 1113.4,273.6 1113.8,272.9 1114.3,272.6 1114.7,273.7 1115.2,271.3 1115.6,273.4 1116.1,273.9 1116.5,272.9 1117.0,275.2 1117.4,275.6 1117.9,274.8 1118.3,275.6 1118.8,276.9 1119.2,277.7 1119.7,275.6 1120.1,277.3 1120.6,278.4 1121.0,277.3 1121.5,276.5 1121.9,276.8 1122.4,277.6 1122.8,276.9 1123.3,281.1 1123.7,277.9 1124.2,281.0 1124.6,279.3 1125.1,281.6 1125.5,279.0 1126.0,278.0 1126.4,282.0 1126.9,280.0 1127.3,280.4 1127.8,280.7 1128.2,282.3 1128.7,281.8 1129.1,282.5 1129.6,282.2 1130.0,281.5 1130.5,281.8 1130.9,280.6 1131.4,279.2 1131.8,281.6 1132.3,280.6 1132.7,285.5 1133.2,284.3 1133.6,284.0 1134.1,281.8 1134.5,285.4 1135.0,280.6 1135.4,281.3 1135.9,282.0 1136.3,281.9 1136.8,280.1 1137.2,283.6 1137.7,285.9 1138.1,284.8 1138.6,285.2 1139.0,284.2 1139.5,283.5 1139.9,282.9 1140.0,281.8 1140.4,282.7 1140.8,283.4 1141.3,282.6 1141.7,281.9 1142.2,282.3 1142.6,284.5 1143.1,282.9 1143.5,284.7 1144.0,283.8 1144.4,283.4 1144.9,282.7 1145.3,284.4 1145.8,283.6 1146.2,283.8 1146.7,283.8 1147.1,284.9 1147.6,284.9 1148.0,282.6 1148.5,284.6 1148.9,285.4 1149.4,286.3 1149.8,286.0 1150.3,285.3 1150.7,283.5 1151.2,284.1 1151.6,286.3 1152.1,284.2 1152.5,286.5 1153.0,286.9 1153.4,283.9 1153.9,285.8 1154.3,285.2 1154.8,288.0 1155.2,286.5 1155.7,284.7 1156.1,286.0 1156.6,284.3 1157.0,285.3 1157.5,285.8 1157.9,285.7 1158.4,286.0 1158.8,284.4 1159.3,283.2 1159.7,285.2 1160.2,287.6 1160.6,284.8 1161.1,288.5 1161.5,287.2 1162.0,285.5 1162.4,283.9 1162.9,284.1 1163.3,286.3 1163.8,287.2 1164.2,285.5 1164.7,286.1 1165.1,286.2 1165.6,287.3 1166.0,283.5 1166.5,286.2 1166.9,286.5 1167.4,287.3 1167.8,286.6 1168.3,284.6 1168.7,285.3 1169.2,284.1 1169.6,286.4 1170.1,286.4 1170.5,286.8 1171.0,284.9 1171.4,284.7 1171.9,288.2 1172.3,286.5 1172.8,288.6 1173.2,286.9 1173.7,284.5 1174.1,287.4 1174.6,288.0 1175.0,285.8 1175.5,284.0 1175.9,287.4 1176.4,286.3 1176.8,286.9 1177.3,283.1 1177.7,287.2 1178.2,283.1 1178.6,285.5 1179.1,287.9 1179.5,284.4 1180.0,284.4 1180.4,286.2 1180.9,289.0 1181.3,289.0 1181.8,286.1 1182.2,288.3 1182.7,287.8 1183.1,287.4 1183.6,287.6 1184.0,286.2 1184.5,288.2 1184.9,288.6 1185.4,290.8 1185.8,288.5 1186.3,284.2 1186.7,285.9 1187.2,287.9 1187.6,287.6 1188.1,285.2 1188.5,287.5 1189.0,287.2 1189.4,287.7 1189.9,287.7 1190.3,289.1 1190.8,289.8 1191.2,285.8 1191.7,286.6 1192.1,287.0 1192.5,287.3 1192.6,288.1 1193.0,287.7 1193.5,287.9 1193.9,287.3 1194.4,289.9 1194.8,289.9 1195.3,290.2 1195.7,289.1 1196.2,290.0 1196.6,288.4 1197.1,288.5 1197.5,289.3 1198.0,291.0 1198.4,290.3 1198.9,289.3 1199.3,291.1 1199.8,291.8 1200.2,291.7 1200.7,290.9 1201.1,292.1 1201.6,291.7 1202.0,292.0 1202.5,292.5 1202.9,293.9 1203.4,295.4 1203.8,295.3 1204.3,294.3 1204.7,293.1 1205.2,293.3 1205.6,291.2 1206.1,295.5 1206.5,290.5 1207.0,294.5 1207.4,291.6 1207.9,294.2 1208.0,295.9 1208.3,293.0 1208.8,291.2 1209.2,295.9 1209.7,296.1 1210.1,294.8 1210.6,295.8 1211.0,293.1 1211.5,295.6 1211.9,296.3 1212.4,294.9 1212.8,294.4 1213.3,295.6 1213.7,295.4 1214.2,292.9 1214.6,295.6 1215.1,294.8 1215.5,294.0 1216.0,295.4 1216.4,294.9 1216.9,294.6 1217.3,292.9 1217.8,294.6 1218.2,292.0 1218.7,293.2 1219.1,291.2 1219.6,291.1 1220.0,293.8 1220.5,293.1 1220.9,293.2 1221.4,293.8 1221.8,293.4 1222.3,291.8 1222.7,293.0 1223.2,292.7 1223.6,292.1 1224.1,292.5 1224.5,292.1 1225.0,291.7 1225.4,292.0 1225.9,292.7 1226.3,295.0 1226.8,291.2 1227.2,292.9 1227.7,293.4 1228.1,294.1 1228.6,290.9 1229.0,292.1 1229.5,293.6 1229.9,293.1 1230.4,289.8 1230.8,292.4 1231.3,291.4 1231.7,292.4 1232.2,291.8 1232.6,292.5 1233.1,289.1 1233.5,291.2 1234.0,292.9 1234.4,287.1 1234.9,290.7 1235.3,290.0 1235.8,291.0 1236.2,290.6 1236.7,291.0 1237.1,290.5 1237.6,290.5 1238.0,288.9 1238.5,291.0 1238.9,291.4 1239.4,290.2 1239.8,290.1 1240.0,290.2 1240.3,293.2 1240.7,291.2 1241.2,291.5 1241.6,290.6 1242.1,290.3 1242.5,289.8 1243.0,293.0 1243.4,288.7 1243.9,291.3 1244.3,290.9 1244.8,290.6 1245.2,288.9 1245.7,289.3 1246.1,292.2 1246.6,290.0 1247.0,292.0 1247.5,291.7 1247.9,291.6 1248.4,291.9 1248.8,289.3 1249.3,290.2 1249.7,291.7 1250.2,289.2 1250.6,293.0 1251.1,290.1 1251.5,290.7 1252.0,289.5 1252.4,291.3 1252.9,289.9 1253.3,290.5 1253.8,289.3 1254.2,292.4 1254.7,288.7 1255.1,291.4 1255.6,291.1 1256.0,291.4 1256.5,289.5 1256.9,292.1 1257.4,292.1 1257.6,291.0 1257.8,291.2 1258.3,287.3 1258.7,291.7 1259.2,289.9 1259.6,291.7 1260.1,291.6 1260.5,289.4 1261.0,287.9 1261.4,291.3 1261.9,291.4 1262.3,293.3 1262.8,292.0 1263.0,291.4 1263.2,290.4 1263.7,292.4 1264.1,292.3 1264.6,292.3 1265.0,294.3 1265.5,296.5 1265.9,296.0 1266.4,295.1 1266.8,297.4 1267.3,295.9 1267.7,295.4 1267.8,298.1 1268.2,298.6 1268.6,296.8 1269.1,293.4 1269.5,288.9 1270.0,287.0 1270.4,285.1 1270.9,280.2 1271.3,276.6 1271.8,275.5 1272.0,274.9 1272.2,276.6 1272.7,273.5 1273.1,275.2 1273.6,275.6 1274.0,273.3 1274.5,274.5 1274.9,274.4 1275.4,275.3 1275.8,272.8 1276.0,272.5 1276.3,273.6 1276.7,273.2 1277.2,273.5 1277.6,274.8 1278.1,272.6 1278.5,273.6 1279.0,272.1 1279.4,273.3 1279.9,272.7 1280.3,272.8 1280.8,273.6 1281.2,273.4 1281.7,274.6 1282.1,275.3 1282.6,272.4 1283.0,275.8 1283.0,271.6 1283.5,275.0 1283.9,275.7 1284.4,274.1 1284.8,274.8 1285.3,274.3 1285.7,276.6 1286.2,271.5 1286.6,274.6 1287.1,275.4 1287.5,276.5 1288.0,278.1 1288.4,278.2 1288.9,277.8 1289.3,277.4 1289.8,276.4 1290.2,279.2 1290.7,278.6 1291.1,276.9 1291.6,276.6 1292.0,277.7 1292.5,280.2 1292.9,280.6 1293.4,281.3 1293.8,278.4 1294.3,279.2 1294.7,281.7 1295.2,280.4 1295.6,281.3 1296.1,278.8 1296.5,280.2 1297.0,280.9 1297.4,280.6 1297.9,280.7 1298.3,279.3 1298.8,283.7 1299.2,282.0 1299.7,280.0 1300.0,283.4 1300.1,282.1 1300.6,283.1 1301.0,282.0 1301.5,281.4 1301.9,281.5 1302.4,283.1 1302.8,283.8 1303.3,283.5 1303.7,283.8 1304.2,286.9 1304.6,283.5 1305.1,282.6 1305.5,284.8 1306.0,283.8 1306.4,283.4 1306.9,283.0 1307.3,282.1 1307.8,281.8 1308.2,285.6 1308.7,284.0 1309.1,283.3 1309.6,286.2 1310.0,285.5 1310.5,284.4 1310.9,285.7 1311.4,284.3 1311.8,285.1 1312.3,287.1 1312.7,286.2 1313.0,284.5 1313.2,285.8 1313.6,286.6 1314.1,285.0 1314.5,284.7 1315.0,287.8 1315.4,285.1 1315.9,283.9 1316.3,285.3 1316.8,288.9 1317.2,286.9 1317.7,287.4 1318.1,283.5 1318.6,285.7 1319.0,288.2 1319.5,286.2 1319.9,288.6 1320.4,287.6 1320.8,287.6 1321.3,289.4 1321.7,286.6 1322.2,286.8 1322.6,287.6 1323.1,287.8 1323.5,285.4 1324.0,289.3 1324.4,288.0 1324.9,287.6 1325.0,288.6 1325.3,287.3 1325.8,289.4 1326.2,287.9 1326.7,288.8 1327.1,286.8 1327.6,287.6 1328.0,288.4 1328.5,286.7 1328.9,286.7 1329.4,287.9 1329.8,289.5 1330.3,289.0 1330.7,289.3 1331.2,288.5 1331.6,289.3 1332.1,290.1 1332.5,288.4 1333.0,288.7 1333.4,288.9 1333.9,285.6 1334.3,288.1 1334.8,288.8 1335.2,289.2 1335.7,287.8 1336.1,289.5 1336.6,287.4 1337.0,288.0 1337.5,290.5 1337.9,286.5 1338.4,288.2 1338.8,288.1 1339.3,288.2 1339.7,287.6 1340.2,289.2 1340.6,286.9 1341.1,286.6 1341.5,289.0 1342.0,286.8 1342.4,288.8 1342.9,286.5 1343.3,287.5 1343.8,287.9 1344.2,288.3 1344.7,289.0 1345.1,287.6 1345.6,288.1 1346.0,286.5 1346.5,288.0 1346.9,285.9 1347.4,288.4 1347.8,289.8 1348.3,291.1 1348.7,290.1 1349.2,288.2 1349.6,289.7 1350.1,288.8 1350.5,286.9 1351.0,285.3 1351.4,289.9 1351.9,289.0 1352.3,285.9 1352.8,289.3 1353.2,289.7 1353.7,287.6 1354.1,289.5 1354.6,286.3 1355.0,288.2 1355.5,288.6 1355.9,289.5 1356.4,289.0 1356.8,288.8 1357.3,289.3 1357.7,287.7 1358.2,290.5 1358.6,288.1 1359.1,289.6 1359.5,288.6 1360.0,288.3 1360.4,289.4 1360.9,289.2 1361.3,290.4 1361.8,290.1 1362.2,287.9 1362.7,289.3 1363.1,288.8 1363.6,287.7 1364.0,287.3 1364.5,289.1 1364.9,288.1 1365.4,287.0 1365.8,288.7 1366.3,286.2 1366.7,289.0 1367.2,287.3 1367.6,288.1 1368.1,290.7 1368.5,287.9 1369.0,288.5 1369.4,292.0 1369.9,289.5 1370.0,288.4 1370.3,286.5 1370.8,289.5 1371.2,287.3 1371.7,286.4 1372.1,288.1 1372.6,287.1 1373.0,291.5 1373.5,289.3 1373.9,290.7 1374.4,290.6 1374.8,288.7 1375.3,289.9 1375.7,289.4 1376.2,291.2 1376.6,290.6 1377.1,289.7 1377.5,292.4 1378.0,291.0 1378.4,291.1 1378.9,289.6 1379.3,291.2 1379.8,288.9 1380.2,291.5 1380.7,289.8 1381.1,291.3 1381.6,290.8 1382.0,291.6 1382.5,291.8 1382.9,291.4 1383.4,291.5 1383.8,292.4 1384.3,286.9 1384.7,293.4 1385.0,292.5 1385.2,289.9 1385.6,294.4 1386.1,291.0 1386.5,292.7 1387.0,292.6 1387.4,292.3 1387.9,293.0 1388.3,290.4 1388.8,292.2 1389.2,292.0 1389.7,292.5 1390.1,292.0 1390.6,291.6 1391.0,291.5 1391.5,293.7 1391.9,291.5 1392.4,293.1 1392.8,293.1 1393.3,292.6 1393.7,293.3 1394.2,293.5 1394.6,292.1 1395.1,293.3 1395.5,295.4 1396.0,291.6 1396.4,292.6 1396.9,292.1 1397.3,295.7 1397.8,291.4 1398.2,293.3 1398.7,294.5 1399.1,292.2 1399.6,293.3 1400.0,293.8 1400.0,291.8 1400.5,293.5 1400.9,294.3 1401.4,293.2 1401.8,294.1 1402.3,294.8 1402.7,295.6 1403.2,292.5 1403.6,295.0 1404.1,293.6 1404.5,292.0 1405.0,293.6 1405.4,295.5 1405.9,295.2 1406.3,293.5 1406.8,297.2 1407.2,295.7 1407.7,295.2 1408.1,294.8 1408.6,296.1 1409.0,295.2 1409.5,297.3 1409.9,296.4 1410.0,296.8 1410.4,295.7 1410.8,294.3 1411.3,297.1 1411.7,295.2 1412.2,296.5 1412.6,296.8 1413.1,295.9 1413.5,298.2 1414.0,295.4 1414.4,299.3 1414.9,296.7 1415.3,298.9 1415.8,299.5 1416.2,296.8 1416.7,300.3 1417.1,299.5 1417.6,298.7 1418.0,298.7 1418.5,296.4 1418.9,296.8 1419.4,299.8 1419.8,301.1 1420.3,298.5 1420.7,298.4 1421.2,300.0 1421.6,300.5 1422.1,300.8 1422.5,299.7 1423.0,297.9 1423.2,302.4" fill="none" stroke="#000" stroke-width="3.8" stroke-linejoin="round"/>
<path d="M1423.2,300.6 1423.5,305.3 1423.8,306.6 1424.1,304.0 1424.4,310.0 1424.7,307.2 1425.0,311.4 1425.0,309.9 1425.3,313.6 1425.6,309.2 1425.9,319.2 1426.0,315.8 1426.2,317.6 1426.5,315.7 1426.8,315.1 1427.1,317.1 1427.4,318.0 1427.7,315.5 1428.0,315.6 1428.0,317.6 1428.3,313.7 1428.6,312.0 1428.9,316.3 1429.2,313.6 1429.5,310.4 1429.8,312.8 1430.1,313.2 1430.4,311.5 1430.7,310.6 1431.0,314.1 1431.0,316.2 1431.3,313.9 1431.6,313.1 1431.9,316.3 1432.2,317.5 1432.5,315.5 1432.8,318.0 1433.0,319.5 1433.1,318.6 1433.4,323.4 1433.7,332.5 1434.0,338.6 1434.0,340.6 1434.3,335.4 1434.6,337.3 1434.9,337.3 1435.2,335.6 1435.5,340.6 1435.8,342.0 1436.0,339.2 1436.1,344.5 1436.4,343.5 1436.7,343.4 1437.0,343.3 1437.3,345.0 1437.6,340.6 1437.9,345.0 1438.2,345.4 1438.5,340.1 1438.8,345.6 1439.0,344.4 1439.1,347.9 1439.4,347.9 1439.7,352.0 1440.0,355.8 1440.0,352.9 1440.3,356.7 1440.6,355.3 1440.9,357.1 1441.2,354.9 1441.5,359.1 1441.8,358.3 1442.1,356.7 1442.4,358.9 1442.7,360.7 1443.0,362.3 1443.0,354.2 1443.3,360.6 1443.6,360.0 1443.9,359.1 1444.2,357.4 1444.5,363.3 1444.8,357.7 1445.0,362.4 1445.1,364.7 1445.4,359.6 1445.7,364.5 1446.0,363.9 1446.0,367.6 1446.3,371.1 1446.6,372.8 1446.9,364.1 1447.2,367.4 1447.5,370.9 1447.8,373.5 1448.0,371.0 1448.1,368.2 1448.4,370.8 1448.7,370.2 1449.0,368.4 1449.3,368.7 1449.6,371.5 1449.9,371.4 1450.2,372.5 1450.5,370.3 1450.8,367.8 1451.0,369.8 1451.1,374.0 1451.4,371.1 1451.7,368.6 1452.0,375.7 1452.3,374.2 1452.6,378.5 1452.9,374.0 1453.0,372.9" fill="none" stroke="#000" stroke-width="2.2" stroke-linejoin="round"/>
<path d="M1452.0,373.0 1452.5,374.8 1452.9,375.0 1453.4,375.6 1453.8,377.3 1454.3,374.6 1454.7,376.0 1455.0,375.6 1455.2,377.3 1455.6,379.5 1456.1,379.1 1456.5,380.6 1457.0,378.7 1457.4,382.2 1457.9,381.9 1458.3,386.2 1458.8,386.2 1459.2,387.0 1459.7,387.2 1460.1,389.1 1460.6,390.3 1461.0,390.2 1461.5,391.0 1461.9,392.5 1462.4,392.9 1462.8,393.9 1463.0,394.7 1463.3,394.6 1463.7,397.4 1464.2,395.5 1464.6,399.4 1465.1,398.6 1465.5,399.7 1466.0,399.8 1466.4,402.3 1466.9,403.2 1467.3,404.7 1467.8,404.8 1468.2,405.5 1468.7,409.6 1469.1,408.9 1469.6,408.6 1470.0,411.4 1470.5,410.9 1470.9,412.6 1471.4,413.4 1471.8,413.0 1472.3,411.8 1472.7,416.1 1473.2,416.0 1473.6,415.4 1474.1,416.8 1474.5,417.8 1475.0,416.3 1475.0,418.5 1475.4,419.2 1475.9,418.7 1476.3,419.0 1476.8,419.1 1477.2,420.7 1477.7,418.4 1478.1,418.3 1478.6,419.1 1479.0,417.4 1479.5,416.8 1479.9,417.7 1480.4,419.3 1480.8,419.5 1481.3,417.2 1481.7,416.9 1482.2,422.2 1482.6,419.1 1483.1,419.4 1483.5,420.4 1484.0,421.2 1484.4,420.1 1484.9,420.7 1485.3,418.9 1485.8,419.0 1486.2,420.9 1486.7,421.6 1487.0,421.9 1487.1,421.8 1487.6,422.3 1488.0,422.8 1488.5,420.2 1488.9,422.0 1489.4,424.1 1489.8,424.9 1490.3,423.1 1490.7,427.1 1491.2,426.0 1491.6,427.0 1492.1,428.5 1492.5,429.8 1493.0,428.0 1493.4,431.7 1493.9,431.4 1494.3,431.1 1494.8,432.3 1495.0,430.4 1495.2,432.5 1495.7,434.1 1496.1,431.0 1496.6,434.8 1497.0,435.7 1497.5,436.6 1497.9,438.4 1498.4,437.8 1498.8,438.2 1499.3,439.8 1499.7,442.3 1500.2,440.0 1500.6,441.7 1501.1,439.7 1501.5,443.8 1502.0,443.5 1502.4,444.8 1502.9,443.5 1503.3,442.7 1503.8,445.4 1504.2,445.5 1504.7,444.0 1505.0,443.2 1505.1,445.6 1505.6,442.8 1506.0,448.5 1506.5,444.7 1506.9,444.9 1507.4,445.5 1507.8,443.8 1508.3,444.8 1508.7,447.9 1509.2,445.9 1509.6,444.9 1510.1,444.7 1510.5,447.0 1511.0,447.1 1511.4,446.7 1511.9,446.0 1512.3,445.5 1512.8,447.1 1513.2,445.9 1513.7,447.5 1514.1,444.3 1514.6,445.4 1515.0,446.6 1515.0,446.9 1515.5,445.7 1515.9,447.6 1516.4,448.5 1516.8,447.9 1517.3,447.7 1517.7,448.5 1518.2,448.1 1518.6,446.4 1519.1,447.6 1519.5,449.5 1520.0,446.6 1520.4,448.2 1520.9,447.7 1521.3,447.2 1521.8,447.2 1522.2,448.6 1522.7,448.9 1523.1,449.0 1523.6,447.0 1524.0,448.5 1524.5,449.3 1524.8,450.1" fill="none" stroke="#000" stroke-width="3.4" stroke-linejoin="round"/>
<line x1="1425.5" y1="296.4" x2="1425.5" y2="347.9" stroke="#000" stroke-width="1.8"/>
<line x1="1431.3" y1="296.4" x2="1431.3" y2="316" stroke="#000" stroke-width="1.8"/>
<line x1="1433.7" y1="227.5" x2="1433.7" y2="356.8" stroke="#000" stroke-width="1.8"/>
<line x1="1439.1" y1="264" x2="1439.1" y2="362.9" stroke="#000" stroke-width="1.8"/>
<line x1="1445.5" y1="266.2" x2="1445.5" y2="374.2" stroke="#000" stroke-width="1.8"/>
<line x1="1448.7" y1="352.9" x2="1448.7" y2="372" stroke="#000" stroke-width="1.8"/>
<line x1="1454.4" y1="362.9" x2="1454.4" y2="378" stroke="#000" stroke-width="1.8"/>
<text transform="translate(1433.81,215.00) scale(0.9731,1)" font-size="39.42" fill="#000" stroke="#000" stroke-width="0.7">#</text>
<text transform="translate(1451.81,266.00) scale(0.9476,1)" font-size="39.71" fill="#000" stroke="#000" stroke-width="0.7">#</text>
<text transform="translate(1469.81,313.00) scale(0.9406,1)" font-size="40.00" fill="#000" stroke="#000" stroke-width="0.7">#</text>
<text transform="translate(6.24,647.80) scale(0.8416,1)" font-size="55.71" font-weight="bold" fill="#000">B</text>
<text transform="translate(727.80,663.20) scale(0.9485,1)" font-size="43.20" fill="#000">Ani9 (3 µM)</text>
<rect x="225.2" y="684.2" width="1193.5" height="16.8" fill="#808080" stroke="#000" stroke-width="3.6"/>
<text transform="translate(797.66,749.50) scale(1.0336,1)" font-size="40.58" fill="#000">[PE]</text>
<rect x="311.8" y="762.8" width="1108.5" height="17.2" fill="#fff" stroke="#000" stroke-width="1.7"/>
<text transform="translate(264.05,865.60) scale(0.9677,1)" font-size="42.62" fill="#000">30 nM</text>
<text transform="translate(407.92,865.60) scale(0.9622,1)" font-size="42.62" fill="#000">100 nM</text>
<text transform="translate(569.06,865.60) scale(0.9627,1)" font-size="42.62" fill="#000">300 nM</text>
<text transform="translate(742.48,865.60) scale(0.9757,1)" font-size="42.62" fill="#000">1 µM</text>
<text transform="translate(896.45,865.60) scale(0.9717,1)" font-size="42.62" fill="#000">3 µM</text>
<text transform="translate(1050.91,865.60) scale(0.9661,1)" font-size="42.62" fill="#000">10 µM</text>
<text transform="translate(1205.06,865.60) scale(0.9666,1)" font-size="42.62" fill="#000">30 µM</text>
<line x1="313.4" y1="886" x2="313.4" y2="1146" stroke="#000" stroke-width="2.6" stroke-dasharray="10 7.82"/>
<line x1="474" y1="882" x2="474" y2="1140" stroke="#000" stroke-width="2.6" stroke-dasharray="10 7.82"/>
<line x1="642.4" y1="884" x2="642.4" y2="1141" stroke="#000" stroke-width="2.6" stroke-dasharray="10 7.82"/>
<line x1="792.7" y1="880.5" x2="792.7" y2="1104" stroke="#000" stroke-width="2.6" stroke-dasharray="10 7.82"/>
<line x1="948.2" y1="882.5" x2="948.2" y2="1063" stroke="#000" stroke-width="2.6" stroke-dasharray="10 7.82"/>
<line x1="1110" y1="880.5" x2="1110" y2="1026" stroke="#000" stroke-width="2.6" stroke-dasharray="10 7.82"/>
<line x1="1258.2" y1="882.5" x2="1258.2" y2="1003" stroke="#000" stroke-width="2.6" stroke-dasharray="10 7.82"/>
<path d="M166.8,1029 L165.6,1189.2 H344.8" fill="none" stroke="#000" stroke-width="2.8"/>
<text transform="translate(142.90,1158.83) rotate(-90) scale(0.9513,1)" font-size="42.47">1 mN</text>
<text transform="translate(190.45,1244.80) scale(0.9699,1)" font-size="41.89" fill="#000">10 min</text>
<path d="M239.0,1153.1 239.4,1152.5 239.9,1152.8 240.3,1150.4 240.8,1156.2 241.2,1155.5 241.7,1153.8 242.1,1155.5 242.6,1155.0 243.0,1154.1 243.5,1156.3 243.9,1154.8 244.4,1155.0 244.8,1154.6 245.3,1156.3 245.7,1155.8 246.2,1156.8 246.6,1155.4 247.1,1156.5 247.5,1155.3 248.0,1157.6 248.4,1156.8 248.9,1157.1 249.3,1157.3 249.8,1155.4 250.2,1157.8 250.7,1159.5 250.8,1154.7 251.1,1154.5 251.6,1154.8 252.0,1157.9 252.5,1156.9 252.9,1158.1 253.4,1157.6 253.8,1156.9 254.3,1156.9 254.7,1156.3 255.2,1157.5 255.6,1154.9 256.1,1155.7 256.5,1156.5 257.0,1158.4 257.4,1155.0 257.9,1154.5 258.3,1155.1 258.8,1157.0 259.2,1155.3 259.7,1157.3 260.1,1153.0 260.6,1156.8 261.0,1155.1 261.5,1153.3 261.9,1155.3 262.4,1156.6 262.8,1155.0 263.3,1156.1 263.7,1157.8 264.2,1155.0 264.6,1154.2 265.1,1153.5 265.5,1155.3 266.0,1154.1 266.4,1154.1 266.9,1154.2 267.3,1155.1 267.8,1152.8 268.2,1152.2 268.7,1151.0 269.0,1155.8 269.1,1154.3 269.6,1156.2 270.0,1153.5 270.5,1153.2 270.9,1154.8 271.4,1154.1 271.8,1152.6 272.3,1153.0 272.7,1156.5 273.2,1154.7 273.6,1154.7 274.1,1153.8 274.5,1153.3 275.0,1155.4 275.4,1154.1 275.9,1153.2 276.3,1154.0 276.8,1153.0 277.2,1154.4 277.7,1155.7 278.1,1153.1 278.6,1156.1 279.0,1153.3 279.5,1153.1 279.9,1153.1 280.4,1153.9 280.8,1154.3 281.3,1153.6 281.7,1153.3 282.2,1153.3 282.6,1153.1 283.1,1152.2 283.5,1151.5 284.0,1154.7 284.4,1155.4 284.9,1155.0 285.3,1157.4 285.8,1154.6 286.2,1153.6 286.7,1156.6 287.1,1152.8 287.6,1152.1 288.0,1153.0 288.5,1154.7 288.9,1151.6 289.4,1155.4 289.8,1154.0 290.0,1152.9 290.3,1156.3 290.7,1155.0 291.2,1153.7 291.6,1152.1 292.1,1152.5 292.5,1151.6 293.0,1152.0 293.4,1151.4 293.9,1148.6 294.3,1148.0 294.8,1147.2 295.2,1145.4 295.7,1145.8 296.1,1145.8 296.6,1146.4 297.0,1146.9 297.5,1144.0 297.7,1145.7 297.9,1144.4 298.4,1147.9 298.8,1145.4 299.3,1146.5 299.7,1145.1 300.2,1145.9 300.6,1147.8 301.1,1147.7 301.5,1149.3 302.0,1147.5 302.4,1151.1 302.9,1149.7 303.3,1153.7 303.8,1151.6 304.2,1153.8 304.7,1150.9 305.1,1153.4 305.5,1151.7 305.6,1152.3 306.0,1152.9 306.5,1152.4 306.9,1153.0 307.4,1153.5 307.8,1153.2 308.3,1152.0 308.7,1149.4 309.2,1150.6 309.6,1151.1 310.1,1148.4 310.5,1151.8 311.0,1150.2 311.4,1149.9 311.9,1151.1 312.3,1150.5 312.8,1149.6 313.2,1147.7 313.3,1149.4 313.7,1149.2 314.1,1146.5 314.6,1149.4 315.0,1148.2 315.5,1144.6 315.9,1146.9 316.4,1144.7 316.8,1147.4 317.3,1146.7 317.7,1143.9 318.2,1144.0 318.5,1145.1 318.6,1144.6 319.1,1146.8 319.5,1145.7 320.0,1144.2 320.4,1145.2 320.9,1141.7 321.3,1144.6 321.8,1145.2 322.2,1143.8 322.7,1143.0 323.1,1144.5 323.6,1146.2 324.0,1143.9 324.5,1142.0 324.9,1145.3 325.4,1140.9 325.8,1143.9 326.3,1142.4 326.7,1144.3 327.2,1141.9 327.6,1147.8 328.1,1143.3 328.5,1140.6 329.0,1140.2 329.4,1142.3 329.9,1144.4 330.3,1142.8 330.8,1140.6 331.2,1142.3 331.7,1143.5 332.1,1143.0 332.6,1142.9 333.0,1141.2 333.5,1144.0 333.9,1144.3 334.0,1140.8 334.4,1145.5 334.8,1143.5 335.3,1142.0 335.7,1140.2 336.2,1143.6 336.6,1143.6 337.1,1142.2 337.5,1140.8 338.0,1144.8 338.4,1142.7 338.9,1143.1 339.3,1147.6 339.8,1146.9 340.2,1145.5 340.7,1143.9 341.1,1145.6 341.6,1142.0 342.0,1145.4 342.5,1144.5 342.9,1144.1 343.4,1143.9 343.8,1146.9 344.3,1146.6 344.7,1146.9 345.2,1148.0 345.6,1146.0 346.1,1145.8 346.5,1145.3 347.0,1147.3 347.4,1149.0 347.9,1147.9 348.3,1149.1 348.8,1146.9 349.2,1148.0 349.7,1147.7 350.1,1147.2 350.6,1151.3 351.0,1150.1 351.5,1148.0 351.9,1148.0 352.0,1148.9 352.4,1147.1 352.8,1149.6 353.3,1147.3 353.7,1148.5 354.2,1147.6 354.6,1148.3 355.1,1147.2 355.5,1146.9 356.0,1147.6 356.4,1148.0 356.9,1148.5 357.3,1148.9 357.8,1150.8 358.2,1149.8 358.7,1148.4 359.1,1149.6 359.6,1147.8 360.0,1150.5 360.5,1149.3 360.9,1146.8 361.4,1149.5 361.8,1149.5 362.3,1144.9 362.7,1147.4 363.2,1147.7 363.6,1145.8 364.1,1146.9 364.5,1147.0 365.0,1148.8 365.4,1148.5 365.9,1151.5 366.3,1145.6 366.8,1149.5 367.2,1148.4 367.7,1148.2 368.1,1146.3 368.6,1145.3 369.0,1146.7 369.5,1148.6 369.9,1149.6 370.4,1148.3 370.8,1148.1 371.3,1146.3 371.7,1149.4 372.2,1149.1 372.6,1146.6 373.1,1147.2 373.5,1145.9 374.0,1149.1 374.4,1147.6 374.9,1146.9 375.3,1147.5 375.8,1147.5 376.2,1146.4 376.7,1145.3 377.1,1145.2 377.6,1144.5 378.0,1147.4 378.5,1149.6 378.9,1144.5 379.4,1146.8 379.8,1147.2 380.3,1145.3 380.7,1146.8 381.2,1142.2 381.6,1148.1 382.1,1145.7 382.5,1146.6 383.0,1147.3 383.4,1145.9 383.9,1144.1 384.3,1146.3 384.8,1147.4 385.2,1146.3 385.7,1146.7 386.0,1145.0 386.1,1146.6 386.6,1147.4 387.0,1146.3 387.5,1148.9 387.9,1146.2 388.4,1145.1 388.8,1144.4 389.3,1148.0 389.7,1146.5 390.2,1147.9 390.6,1147.3 391.1,1148.8 391.5,1148.4 392.0,1146.3 392.4,1145.1 392.9,1148.3 393.3,1145.4 393.8,1148.9 394.2,1148.7 394.7,1146.1 395.1,1147.0 395.6,1147.7 396.0,1146.0 396.5,1147.6 396.9,1146.8 397.4,1147.7 397.8,1147.1 398.3,1148.1 398.7,1149.4 399.2,1146.2 399.6,1149.2 400.1,1145.5 400.5,1145.3 401.0,1148.1 401.4,1148.3 401.9,1148.9 402.3,1146.3 402.8,1148.6 403.2,1148.7 403.7,1150.2 404.1,1148.5 404.6,1149.4 405.0,1147.5 405.5,1148.5 405.9,1148.2 406.4,1149.8 406.8,1147.6 407.3,1147.8 407.7,1149.7 408.2,1151.3 408.6,1149.5 409.1,1149.4 409.5,1148.5 409.7,1150.4 410.0,1149.7 410.4,1151.3 410.9,1149.4 411.3,1147.8 411.8,1148.2 412.2,1147.7 412.7,1147.4 413.1,1150.6 413.6,1150.0 414.0,1147.3 414.5,1151.3 414.9,1149.3 415.4,1147.7 415.8,1149.4 416.3,1148.8 416.7,1147.9 417.2,1146.3 417.6,1148.9 418.1,1149.2 418.5,1145.5 419.0,1149.5 419.4,1146.9 419.9,1148.2 420.3,1148.9 420.8,1148.4 421.2,1147.6 421.7,1148.2 422.1,1150.4 422.6,1146.7 423.0,1148.9 423.5,1148.8 423.9,1147.6 424.4,1148.0 424.8,1146.7 425.3,1147.4 425.7,1148.5 426.2,1148.9 426.6,1147.2 427.1,1151.1 427.5,1147.6 428.0,1148.5 428.4,1150.2 428.9,1147.7 429.3,1149.9 429.8,1147.6 430.2,1149.9 430.7,1149.6 431.1,1146.8 431.6,1149.4 432.0,1147.2 432.5,1151.6 432.9,1147.5 433.4,1146.7 433.8,1145.4 434.3,1146.2 434.7,1147.1 435.2,1146.5 435.6,1146.2 436.1,1146.9 436.5,1147.5 437.0,1149.6 437.4,1145.5 437.9,1146.9 438.3,1146.4 438.8,1145.6 439.2,1145.9 439.7,1146.3 440.1,1148.4 440.6,1147.2 441.0,1146.7 441.5,1148.2 441.9,1147.7 442.4,1147.0 442.8,1147.8 443.3,1146.2 443.7,1148.0 444.2,1147.8 444.6,1146.6 445.1,1145.6 445.5,1149.1 446.0,1147.2 446.4,1151.0 446.9,1146.2 447.3,1148.1 447.8,1146.4 448.2,1147.3 448.7,1148.0 449.1,1145.9 449.6,1146.7 450.0,1147.1 450.5,1147.0 450.9,1147.6 451.4,1148.1 451.8,1147.8 452.3,1147.1 452.7,1146.3 453.2,1145.2 453.6,1143.8 454.1,1146.0 454.5,1147.5 455.0,1146.1 455.4,1145.0 455.9,1147.4 456.3,1145.5 456.8,1145.5 457.2,1146.2 457.7,1147.1 458.1,1143.4 458.6,1145.0 459.0,1146.7 459.5,1146.0 459.9,1145.3 460.4,1145.7 460.8,1148.2 461.3,1145.8 461.7,1147.3 462.2,1147.9 462.6,1147.6 463.1,1147.0 463.5,1145.8 464.0,1145.6 464.4,1144.9 464.4,1147.5 464.9,1145.9 465.3,1145.7 465.8,1144.9 466.2,1148.8 466.7,1147.4 467.1,1146.3 467.6,1145.6 468.0,1144.5 468.5,1146.9 468.9,1146.9 469.4,1144.7 469.8,1148.1 470.3,1147.7 470.7,1145.4 471.2,1146.0 471.6,1146.2 472.1,1147.0 472.5,1146.7 473.0,1144.8 473.4,1148.9 473.9,1147.4 474.0,1148.6 474.3,1148.7 474.8,1146.9 475.2,1147.8 475.7,1148.4 476.1,1148.7 476.6,1147.7 477.0,1147.3 477.5,1148.4 477.9,1148.1 478.4,1148.0 478.8,1146.0 479.3,1149.0 479.7,1147.7 480.0,1148.3 480.2,1148.9 480.6,1149.3 481.1,1151.2 481.5,1148.8 482.0,1146.4 482.4,1148.1 482.9,1146.7 483.3,1147.6 483.8,1145.7 484.2,1145.2 484.7,1145.0 485.1,1144.3 485.6,1142.3 486.0,1143.3 486.5,1143.6 486.9,1145.0 487.4,1142.4 487.8,1141.9 488.3,1142.8 488.7,1142.4 489.2,1143.6 489.6,1142.1 490.1,1141.2 490.4,1142.9 490.5,1143.2 491.0,1140.6 491.4,1141.6 491.9,1139.3 492.3,1141.2 492.8,1140.8 493.2,1141.9 493.7,1141.8 494.1,1142.5 494.6,1142.9 495.0,1144.0 495.5,1144.0 495.9,1143.3 496.4,1142.7 496.8,1146.3 497.3,1146.9 497.7,1144.7 498.2,1146.3 498.6,1143.8 499.1,1144.0 499.5,1145.8 500.0,1148.2 500.4,1145.0 500.8,1145.3 500.9,1148.5 501.3,1143.9 501.8,1147.2 502.2,1147.0 502.7,1145.6 503.1,1146.5 503.6,1149.6 504.0,1144.6 504.5,1145.6 504.9,1145.6 505.4,1144.9 505.8,1143.9 506.3,1147.6 506.7,1145.7 507.2,1142.9 507.6,1144.2 508.1,1145.4 508.5,1145.3 509.0,1142.7 509.4,1144.3 509.9,1144.6 510.3,1144.5 510.8,1144.4 511.2,1141.3 511.7,1144.0 512.1,1143.5 512.6,1145.4 513.0,1146.6 513.5,1141.7 513.9,1140.9 514.4,1143.4 514.8,1141.8 515.3,1141.3 515.7,1140.3 516.2,1143.7 516.6,1140.7 517.1,1139.3 517.5,1140.3 518.0,1139.2 518.4,1140.7 518.9,1139.8 519.3,1138.8 519.8,1140.8 520.2,1139.0 520.7,1140.7 521.1,1141.2 521.6,1139.0 522.0,1138.5 522.5,1139.4 522.9,1140.2 523.4,1139.0 523.8,1139.1 524.3,1138.8 524.7,1139.2 525.2,1139.5 525.6,1137.7 526.1,1138.0 526.5,1138.7 526.9,1137.7 527.0,1138.8 527.4,1139.3 527.9,1138.6 528.3,1137.8 528.8,1137.6 529.2,1140.9 529.7,1139.8 530.1,1137.2 530.6,1137.6 531.0,1141.1 531.5,1140.6 531.9,1138.9 532.4,1140.2 532.8,1136.8 533.3,1138.8 533.7,1139.7 534.2,1136.4 534.6,1137.8 535.1,1139.9 535.5,1140.3 536.0,1138.1 536.4,1139.3 536.9,1141.0 537.3,1139.2 537.8,1137.3 538.2,1139.0 538.7,1138.6 539.1,1140.8 539.6,1139.4 540.0,1138.2 540.5,1142.4 540.9,1138.6 541.4,1139.9 541.8,1140.2 542.3,1140.4 542.7,1139.7 543.2,1138.5 543.6,1139.4 544.1,1137.7 544.5,1139.3 545.0,1139.4 545.4,1139.5 545.9,1139.9 546.3,1139.0 546.8,1141.6 547.2,1141.9 547.7,1137.1 548.1,1140.0 548.6,1139.1 549.0,1136.7 549.5,1140.7 549.9,1139.4 550.4,1139.8 550.8,1139.5 551.3,1141.8 551.7,1142.0 552.2,1140.8 552.6,1140.6 553.1,1140.4 553.5,1140.8 554.0,1139.7 554.4,1140.8 554.9,1139.9 555.3,1141.4 555.8,1142.0 556.2,1141.4 556.7,1142.6 557.1,1144.6 557.6,1138.4 558.0,1141.2 558.5,1140.5 558.9,1140.7 559.4,1139.6 559.8,1141.5 560.3,1140.3 560.7,1140.7 561.2,1141.3 561.6,1140.9 562.1,1138.7 562.5,1143.2 563.0,1141.4 563.4,1140.7 563.9,1142.3 564.3,1141.1 564.8,1139.2 565.2,1143.3 565.7,1140.0 566.1,1141.9 566.6,1142.4 567.0,1144.1 567.5,1143.9 567.9,1142.7 568.4,1141.5 568.5,1142.0 568.8,1144.0 569.3,1144.9 569.7,1146.6 570.2,1141.9 570.6,1144.1 571.1,1142.3 571.5,1142.4 572.0,1142.6 572.4,1143.8 572.9,1143.5 573.3,1144.5 573.8,1144.9 574.2,1144.0 574.7,1140.6 575.1,1141.3 575.6,1143.8 576.0,1143.6 576.5,1146.5 576.9,1143.8 577.4,1143.7 577.8,1145.2 578.3,1145.5 578.7,1143.8 579.2,1144.9 579.6,1142.9 580.1,1143.2 580.5,1146.1 581.0,1142.8 581.4,1145.9 581.9,1145.6 582.3,1145.8 582.8,1146.1 583.2,1145.7 583.7,1142.3 584.1,1143.9 584.6,1144.5 585.0,1149.0 585.5,1144.0 585.9,1144.6 586.4,1145.1 586.8,1147.4 587.3,1143.9 587.7,1144.1 588.2,1146.7 588.6,1143.2 589.1,1146.5 589.5,1145.5 590.0,1143.8 590.4,1145.7 590.9,1145.0 591.3,1146.6 591.8,1146.9 592.2,1148.4 592.7,1146.5 593.1,1146.7 593.6,1145.9 594.0,1146.7 594.5,1148.1 594.9,1144.3 595.4,1147.7 595.8,1146.1 596.3,1147.0 596.7,1147.3 597.2,1148.0 597.6,1147.3 598.1,1146.5 598.5,1147.4 599.0,1147.0 599.4,1146.7 599.9,1147.3 600.0,1148.1 600.3,1147.2 600.8,1144.4 601.2,1145.3 601.7,1146.8 602.1,1144.5 602.6,1147.8 603.0,1145.6 603.5,1148.4 603.9,1150.7 604.4,1146.1 604.8,1148.3 605.3,1147.0 605.7,1145.7 606.2,1145.2 606.6,1147.0 607.1,1148.0 607.5,1146.5 608.0,1144.0 608.4,1144.5 608.9,1145.5 609.3,1147.5 609.8,1146.0 610.2,1145.9 610.7,1147.0 611.1,1145.1 611.6,1145.1 612.0,1144.9 612.5,1142.8 612.9,1145.6 613.4,1148.5 613.8,1146.1 614.3,1143.2 614.7,1143.7 615.2,1145.9 615.6,1145.1 616.1,1146.4 616.5,1143.4 617.0,1144.8 617.4,1143.6 617.9,1144.9 618.2,1143.9 618.3,1145.2 618.8,1145.9 619.2,1145.4 619.7,1142.2 620.1,1145.9 620.6,1145.3 621.0,1143.5 621.5,1143.8 621.9,1145.1 622.4,1145.9 622.8,1144.7 623.3,1143.4 623.7,1146.0 624.2,1146.0 624.6,1149.2 625.1,1144.5 625.5,1149.6 626.0,1148.8 626.4,1147.2 626.9,1149.1 627.3,1147.3 627.8,1150.3 628.2,1148.7 628.7,1147.9 629.1,1146.7 629.6,1146.2 630.0,1148.1 630.5,1150.5 630.9,1149.6 631.4,1150.7 631.8,1149.0 632.3,1149.5 632.7,1149.8 633.2,1147.6 633.6,1150.3 634.1,1150.1 634.5,1153.0 635.0,1148.9 635.4,1147.9 635.9,1150.3 636.3,1151.1 636.8,1152.5 637.2,1152.3 637.7,1152.8 638.1,1151.4 638.6,1152.5 639.0,1150.7 639.0,1151.8 639.5,1152.2 639.9,1154.5 640.4,1151.3 640.8,1149.3 641.3,1152.7 641.7,1149.8 642.2,1150.7 642.6,1150.3 643.1,1149.4 643.5,1152.2 644.0,1151.2 644.4,1149.5 644.9,1150.3 645.3,1149.5 645.8,1150.7 646.2,1149.3 646.7,1148.6 647.1,1148.6 647.6,1148.7 648.0,1149.4 648.5,1147.7 648.9,1148.5 649.4,1149.0 649.5,1151.4 649.8,1149.2 650.3,1143.5 650.7,1145.6 651.2,1147.1 651.6,1143.6 652.1,1143.4 652.5,1140.2 653.0,1134.1 653.4,1135.3 653.9,1132.8 654.3,1130.9 654.8,1130.0 655.2,1124.8 655.7,1125.8 656.1,1120.5 656.6,1121.4 657.0,1120.7 657.3,1122.8 657.5,1118.6 657.9,1117.0 658.4,1117.0 658.8,1116.6 659.3,1117.4 659.7,1115.3 660.2,1114.5 660.6,1116.6 661.1,1114.6 661.5,1115.2 662.0,1111.5 662.4,1115.0 662.9,1111.6 663.3,1112.9 663.8,1110.1 664.2,1109.0 664.7,1110.2 665.1,1110.4 665.6,1111.9 666.0,1112.2 666.5,1110.2 666.9,1109.8 667.4,1112.8 667.8,1107.5 668.3,1110.0 668.7,1108.0 669.2,1108.4 669.6,1107.3 670.1,1109.5 670.3,1106.4 670.5,1106.3 671.0,1107.8 671.4,1106.6 671.9,1109.1 672.3,1109.4 672.8,1107.4 673.2,1109.5 673.7,1107.7 674.1,1108.7 674.6,1108.9 675.0,1111.6 675.5,1109.3 675.9,1108.3 676.4,1108.5 676.8,1111.5 677.3,1108.0 677.7,1109.8 678.2,1110.2 678.6,1107.7 679.1,1110.5 679.5,1112.7 680.0,1111.9 680.4,1110.7 680.9,1110.2 681.3,1113.0 681.8,1115.2 682.2,1111.8 682.7,1112.5 683.1,1113.3 683.6,1113.2 684.0,1113.7 684.5,1113.6 684.9,1113.0 685.4,1111.2 685.8,1113.5 686.3,1112.5 686.7,1113.1 687.2,1113.8 687.6,1115.2 688.1,1115.7 688.5,1113.2 688.5,1113.4 689.0,1115.6 689.4,1114.5 689.9,1112.4 690.3,1111.8 690.8,1115.6 691.2,1115.8 691.7,1114.9 692.1,1113.2 692.6,1116.5 693.0,1116.1 693.5,1114.5 693.9,1114.3 694.4,1112.0 694.8,1115.5 695.3,1112.5 695.7,1115.5 696.2,1115.5 696.6,1113.4 697.1,1116.6 697.5,1114.1 698.0,1115.3 698.4,1115.6 698.9,1114.9 699.3,1114.0 699.8,1116.2 700.2,1115.1 700.7,1114.3 701.1,1114.4 701.6,1114.7 702.0,1117.5 702.5,1116.9 702.9,1114.3 703.4,1113.2 703.8,1115.4 704.3,1112.1 704.7,1114.9 705.2,1114.7 705.6,1113.2 706.1,1112.6 706.5,1114.1 707.0,1113.9 707.4,1112.8 707.9,1115.0 708.3,1117.9 708.8,1114.5 709.2,1115.6 709.7,1113.7 710.1,1116.3 710.6,1113.2 711.0,1115.2 711.5,1115.4 711.9,1114.2 712.4,1115.0 712.8,1112.9 713.3,1112.6 713.7,1114.3 714.2,1113.6 714.6,1115.3 715.1,1114.6 715.5,1115.4 716.0,1117.6 716.4,1114.8 716.9,1114.7 717.3,1114.1 717.8,1114.0 718.2,1117.2 718.7,1112.3 719.1,1111.2 719.6,1115.9 719.8,1115.1 720.0,1116.4 720.5,1115.3 720.9,1113.0 721.4,1114.2 721.8,1112.9 722.3,1116.0 722.7,1116.7 723.2,1114.3 723.6,1114.7 724.1,1114.6 724.5,1113.4 725.0,1114.8 725.4,1113.4 725.9,1114.9 726.3,1116.1 726.8,1116.9 727.2,1117.8 727.7,1115.8 728.1,1116.7 728.6,1117.2 729.0,1117.5 729.5,1113.3 729.9,1116.2 730.4,1118.4 730.8,1116.1 731.3,1118.1 731.7,1119.0 732.2,1115.7 732.6,1118.1 733.1,1118.9 733.5,1118.8 734.0,1117.0 734.4,1119.6 734.9,1118.6 735.3,1120.6 735.8,1120.3 736.2,1119.2 736.7,1120.4 737.1,1119.4 737.6,1119.6 738.0,1118.6 738.5,1120.5 738.9,1122.0 739.4,1121.3 739.8,1121.2 740.3,1120.6 740.7,1120.8 741.2,1122.6 741.6,1119.8 742.1,1124.5 742.5,1121.9 743.0,1124.9 743.4,1123.6 743.9,1121.6 744.3,1123.2 744.8,1122.6 745.2,1122.9 745.7,1123.3 745.8,1121.6 746.1,1121.5 746.6,1121.7 747.0,1120.4 747.5,1121.8 747.9,1122.4 748.4,1122.4 748.8,1122.2 749.3,1120.9 749.7,1122.8 750.2,1119.0 750.6,1121.0 751.1,1121.0 751.5,1122.4 752.0,1122.0 752.4,1123.6 752.9,1120.8 753.3,1121.9 753.8,1119.2 754.2,1120.4 754.7,1117.4 755.1,1122.2 755.6,1121.8 756.0,1118.8 756.5,1118.3 756.9,1116.5 757.4,1117.0 757.8,1119.0 758.3,1118.4 758.7,1116.5 759.2,1117.6 759.6,1117.2 760.1,1118.5 760.5,1118.6 761.0,1117.2 761.4,1117.5 761.9,1113.9 762.3,1114.3 762.8,1117.1 763.2,1116.6 763.7,1117.5 764.1,1114.0 764.6,1117.2 765.0,1115.3 765.5,1116.3 765.9,1117.5 766.4,1113.9 766.7,1114.0 766.8,1117.0 767.3,1114.1 767.7,1114.3 768.2,1116.2 768.6,1115.1 769.1,1116.3 769.5,1115.6 770.0,1115.1 770.4,1116.3 770.9,1117.8 771.3,1114.8 771.8,1116.7 772.2,1116.2 772.7,1114.8 773.1,1115.2 773.6,1113.3 774.0,1113.7 774.5,1114.8 774.9,1114.3 775.4,1116.0 775.8,1112.5 776.3,1113.8 776.7,1110.6 777.2,1113.9 777.6,1115.5 778.1,1112.4 778.5,1115.0 779.0,1113.1 779.4,1113.4 779.9,1115.0 780.3,1113.3 780.8,1114.5 781.2,1113.7 781.7,1113.3 782.1,1113.0 782.6,1111.1 783.0,1112.4 783.5,1113.5 783.9,1113.5 784.4,1111.2 784.8,1114.4 785.3,1113.8 785.7,1111.3 786.2,1111.6 786.6,1113.5 787.1,1110.5 787.5,1111.8 788.0,1112.6 788.4,1112.4 788.9,1112.4 789.3,1113.0 789.8,1111.3 790.2,1111.7 790.7,1114.9 791.1,1110.3 791.6,1111.5 792.0,1112.1 792.5,1111.1 792.7,1113.4 792.9,1111.9 793.4,1112.7 793.8,1108.3 794.3,1113.1 794.7,1113.0 795.2,1110.5 795.6,1113.1 796.1,1111.6 796.5,1112.4 797.0,1113.4 797.4,1111.0 797.9,1109.3 798.0,1110.6 798.3,1108.3 798.8,1106.9 799.2,1103.9 799.7,1100.3 800.1,1098.7 800.6,1094.2 801.0,1088.7 801.0,1091.0 801.5,1083.5 801.9,1080.5 802.4,1076.6 802.8,1073.5 803.3,1068.1 803.7,1063.2 804.2,1060.1 804.6,1055.7 805.1,1053.6 805.5,1048.8 805.7,1047.2 806.0,1048.1 806.4,1048.7 806.9,1045.5 807.3,1046.8 807.8,1045.7 808.2,1044.6 808.7,1041.1 809.1,1041.6 809.6,1043.4 810.0,1040.1 810.5,1040.9 810.9,1038.7 811.4,1041.1 811.8,1038.3 812.2,1042.1 812.3,1038.6 812.7,1040.7 813.2,1040.2 813.6,1039.4 814.1,1042.2 814.5,1040.2 815.0,1042.9 815.4,1039.8 815.9,1040.3 816.3,1039.0 816.8,1042.6 817.2,1043.4 817.7,1042.8 818.1,1042.6 818.6,1042.0 819.0,1046.5 819.5,1044.8 819.9,1041.8 820.4,1044.2 820.8,1041.6 821.3,1047.4 821.7,1048.3 822.2,1048.0 822.6,1046.4 823.1,1046.1 823.5,1045.7 824.0,1048.3 824.4,1047.0 824.9,1047.8 825.3,1047.8 825.8,1048.5 826.2,1050.4 826.6,1051.6 826.7,1049.7 827.1,1049.8 827.6,1048.6 828.0,1048.7 828.5,1049.2 828.9,1052.0 829.4,1051.4 829.8,1052.6 830.3,1052.1 830.7,1051.3 831.2,1050.5 831.6,1051.9 832.1,1050.8 832.5,1055.5 833.0,1053.5 833.4,1052.9 833.9,1056.2 834.3,1053.4 834.8,1054.9 835.2,1054.2 835.7,1055.1 836.1,1054.4 836.6,1054.0 837.0,1057.2 837.5,1054.0 837.9,1053.0 838.4,1057.9 838.8,1056.6 839.3,1057.8 839.7,1056.5 840.2,1059.1 840.6,1059.7 841.1,1056.1 841.5,1058.7 842.0,1057.3 842.4,1056.2 842.9,1058.2 843.3,1059.6 843.8,1057.3 844.2,1057.6 844.7,1061.1 845.1,1059.8 845.6,1057.6 846.0,1058.8 846.5,1059.6 846.9,1060.9 847.4,1061.2 847.8,1061.4 848.3,1063.6 848.7,1061.9 849.2,1059.9 849.6,1061.0 850.0,1062.3 850.1,1064.1 850.5,1061.8 851.0,1062.4 851.4,1063.2 851.9,1062.6 852.3,1062.7 852.8,1063.8 853.2,1065.7 853.7,1065.4 854.1,1064.7 854.6,1065.9 855.0,1064.0 855.5,1067.3 855.9,1067.2 856.4,1066.9 856.8,1064.6 857.3,1069.7 857.7,1063.4 858.2,1066.1 858.6,1066.4 859.1,1068.7 859.5,1065.9 860.0,1068.3 860.4,1067.8 860.4,1067.7 860.9,1069.2 861.3,1070.0 861.8,1068.7 862.2,1067.9 862.7,1065.3 863.1,1070.3 863.6,1068.0 864.0,1066.0 864.5,1068.7 864.9,1070.4 865.4,1068.3 865.8,1067.0 866.3,1071.6 866.7,1069.4 867.2,1069.1 867.6,1070.0 868.1,1065.9 868.5,1068.7 869.0,1068.6 869.4,1071.8 869.9,1068.1 870.3,1068.1 870.8,1067.1 871.2,1067.8 871.7,1068.7 872.1,1069.3 872.6,1068.7 873.0,1071.7 873.5,1069.7 873.9,1069.9 874.4,1072.0 874.8,1069.9 875.3,1068.4 875.7,1067.1 876.2,1069.6 876.6,1068.1 877.1,1070.9 877.5,1068.2 878.0,1066.3 878.4,1069.3 878.9,1070.6 879.3,1069.0 879.8,1069.5 880.2,1069.5 880.7,1071.6 881.1,1069.7 881.6,1069.3 882.0,1068.5 882.5,1067.2 882.9,1071.2 883.4,1070.9 883.8,1067.9 884.3,1070.2 884.7,1069.8 885.2,1068.9 885.6,1069.0 886.1,1070.4 886.5,1067.9 887.0,1068.8 887.4,1069.4 887.9,1069.5 888.3,1069.2 888.8,1069.8 889.2,1070.2 889.7,1068.4 890.1,1069.7 890.6,1068.9 891.0,1071.6 891.5,1067.8 891.9,1069.4 892.4,1070.6 892.8,1069.3 893.3,1069.3 893.7,1069.1 894.2,1070.2 894.6,1068.3 895.1,1069.7 895.5,1069.7 896.0,1068.0 896.4,1070.3 896.9,1069.4 897.3,1070.4 897.8,1071.2 898.2,1070.5 898.7,1068.6 899.1,1070.6 899.5,1068.1 899.6,1069.2 900.0,1072.5 900.5,1070.3 900.9,1072.4 901.4,1070.2 901.8,1070.5 902.3,1069.1 902.7,1071.9 903.2,1070.5 903.6,1071.7 904.1,1071.5 904.5,1071.8 905.0,1071.6 905.4,1071.2 905.9,1071.4 906.3,1070.6 906.8,1067.2 907.2,1072.4 907.7,1074.6 908.1,1073.4 908.6,1075.2 909.0,1072.9 909.5,1071.1 909.9,1071.2 910.4,1073.6 910.8,1073.1 911.3,1073.2 911.7,1073.9 912.2,1071.9 912.6,1073.8 913.1,1072.9 913.5,1073.6 914.0,1075.0 914.4,1073.4 914.9,1075.4 915.3,1075.5 915.8,1072.8 916.2,1076.9 916.7,1072.3 917.1,1073.9 917.6,1075.0 918.0,1071.1 918.5,1077.4 918.9,1075.7 919.4,1074.0 919.8,1074.6 920.3,1074.5 920.3,1073.9 920.7,1075.6 921.2,1073.7 921.6,1074.1 922.1,1074.5 922.5,1075.1 923.0,1075.3 923.4,1071.8 923.9,1070.9 924.3,1073.3 924.8,1073.3 925.2,1071.8 925.7,1073.4 926.1,1073.7 926.6,1073.2 927.0,1074.6 927.5,1070.9 927.9,1072.1 928.4,1074.4 928.8,1072.6 929.3,1070.3 929.7,1071.6 930.2,1072.7 930.6,1073.7 931.1,1071.7 931.5,1072.2 932.0,1069.1 932.4,1070.1 932.9,1071.8 933.3,1068.9 933.8,1070.0 934.2,1067.5 934.7,1071.8 935.1,1066.3 935.6,1070.6 936.0,1067.8 936.0,1068.1 936.5,1072.2 936.9,1068.3 937.4,1069.1 937.8,1070.6 938.3,1070.7 938.7,1067.4 939.2,1068.8 939.6,1070.2 940.1,1070.2 940.5,1070.8 941.0,1069.9 941.4,1070.2 941.9,1070.9 942.3,1069.8 942.8,1069.7 943.2,1070.2 943.7,1071.1 944.1,1071.9 944.6,1073.5 945.0,1071.0 945.5,1071.4 945.9,1072.0 946.4,1072.2 946.8,1070.1 947.3,1073.2 947.7,1069.8 948.0,1072.7 948.2,1071.1 948.6,1072.9 949.1,1073.6 949.5,1069.8 950.0,1073.2 950.4,1072.8 950.9,1072.0 951.3,1073.2 951.8,1072.1 952.2,1073.0 952.7,1071.5 953.1,1074.0 953.6,1073.8 954.0,1074.1 954.5,1072.3 954.9,1075.6 955.4,1075.8 955.6,1073.1 955.8,1072.2 956.3,1069.4 956.7,1066.2 957.2,1061.1 957.6,1053.0 958.0,1047.3 958.1,1049.5 958.5,1043.4 959.0,1037.6 959.4,1031.9 959.9,1024.0 960.3,1020.7 960.8,1016.8 960.8,1017.7 961.2,1016.2 961.7,1012.2 962.1,1008.8 962.6,1009.4 963.0,1006.7 963.5,1003.7 963.9,1000.1 964.4,1000.0 964.8,1000.3 965.3,1000.1 965.7,998.3 966.0,999.5 966.2,998.1 966.6,998.5 967.1,999.8 967.5,998.9 968.0,999.6 968.4,1000.8 968.9,1001.4 969.3,999.5 969.8,1000.3 970.2,999.3 970.7,999.7 971.1,1002.2 971.6,1001.6 972.0,1000.3 972.5,1003.9 972.9,1002.6 973.4,1003.7 973.8,1005.2 974.3,1005.6 974.7,1005.5 975.2,1003.5 975.6,1003.9 976.1,1006.2 976.5,1005.6 977.0,1004.9 977.4,1009.9 977.9,1008.8 978.3,1009.1 978.8,1010.0 979.0,1009.2 979.2,1007.5 979.7,1010.6 980.1,1011.3 980.6,1007.4 981.0,1012.5 981.5,1013.2 981.9,1009.9 982.4,1010.6 982.8,1012.6 983.3,1011.9 983.7,1012.2 984.2,1013.3 984.6,1013.3 985.1,1012.0 985.5,1012.9 986.0,1012.0 986.4,1012.9 986.9,1011.9 987.3,1007.8 987.8,1013.1 988.2,1013.2 988.7,1015.3 989.1,1016.4 989.6,1014.6 990.0,1015.3 990.5,1014.1 990.9,1013.9 991.4,1014.9 991.8,1015.1 992.3,1016.0 992.7,1016.0 993.2,1018.2 993.6,1015.9 994.1,1014.2 994.5,1016.7 995.0,1015.9 995.4,1017.2 995.9,1018.5 996.3,1016.4 996.8,1017.3 997.2,1018.3 997.7,1016.6 998.1,1018.2 998.6,1018.9 999.0,1019.4 999.5,1019.9 999.9,1019.4 1000.4,1019.4 1000.8,1017.3 1001.3,1015.8 1001.7,1018.2 1002.2,1021.5 1002.5,1019.9 1002.6,1016.9 1003.1,1019.5 1003.5,1020.7 1004.0,1018.0 1004.4,1023.0 1004.9,1019.4 1005.3,1022.4 1005.8,1021.3 1006.2,1025.5 1006.7,1020.0 1007.1,1022.3 1007.6,1020.2 1008.0,1023.8 1008.5,1022.7 1008.9,1024.0 1009.4,1023.1 1009.8,1021.7 1010.3,1022.5 1010.7,1022.0 1011.2,1022.4 1011.6,1024.2 1012.1,1025.6 1012.5,1025.5 1013.0,1025.2 1013.4,1024.0 1013.9,1025.6 1014.3,1024.0 1014.8,1025.5 1015.2,1026.5 1015.7,1025.3 1016.1,1025.1 1016.6,1025.3 1017.0,1028.6 1017.5,1025.8 1017.9,1024.4 1018.0,1025.8 1018.4,1025.0 1018.8,1028.5 1019.3,1026.6 1019.7,1024.8 1020.2,1027.2 1020.6,1027.9 1021.1,1027.6 1021.5,1026.7 1022.0,1027.5 1022.4,1027.8 1022.9,1028.8 1023.3,1028.1 1023.8,1030.7 1024.2,1027.6 1024.7,1029.9 1025.1,1028.1 1025.6,1025.9 1026.0,1026.7 1026.5,1026.0 1026.9,1026.2 1027.4,1030.1 1027.8,1027.8 1028.3,1029.5 1028.7,1027.7 1029.2,1028.9 1029.6,1027.6 1030.1,1030.2 1030.5,1028.8 1031.0,1028.7 1031.4,1029.1 1031.9,1032.3 1032.3,1030.1 1032.8,1030.7 1033.2,1028.1 1033.7,1028.9 1034.1,1030.2 1034.6,1027.5 1035.0,1031.7 1035.5,1030.5 1035.9,1030.2 1036.4,1030.0 1036.8,1030.0 1037.3,1033.2 1037.7,1032.3 1038.2,1028.5 1038.6,1032.2 1039.1,1030.3 1039.5,1029.6 1040.0,1032.6 1040.4,1029.3 1040.9,1030.2 1041.3,1032.0 1041.8,1032.5 1042.2,1029.5 1042.7,1030.9 1043.1,1031.4 1043.6,1031.2 1044.0,1030.3 1044.5,1032.4 1044.9,1030.9 1045.4,1031.3 1045.8,1028.8 1046.3,1031.6 1046.7,1029.3 1047.2,1032.8 1047.6,1032.6 1048.1,1031.3 1048.5,1032.3 1049.0,1032.3 1049.4,1032.0 1049.9,1032.7 1050.3,1032.1 1050.8,1031.7 1051.2,1031.4 1051.7,1034.6 1052.1,1032.8 1052.6,1032.5 1053.0,1033.5 1053.5,1032.2 1053.9,1032.2 1054.4,1033.6 1054.6,1034.1 1054.8,1033.7 1055.3,1031.0 1055.7,1033.0 1056.2,1030.6 1056.6,1033.6 1057.1,1031.9 1057.5,1031.8 1058.0,1033.0 1058.4,1032.1 1058.9,1031.9 1059.3,1033.2 1059.8,1034.6 1060.2,1033.6 1060.7,1034.9 1061.1,1032.3 1061.6,1034.5 1062.0,1033.6 1062.5,1032.6 1062.9,1033.2 1063.4,1032.7 1063.8,1033.6 1064.3,1032.9 1064.7,1035.6 1065.2,1033.5 1065.6,1032.2 1066.1,1033.9 1066.5,1034.6 1067.0,1033.8 1067.4,1035.4 1067.9,1033.1 1068.3,1033.2 1068.8,1036.5 1069.2,1034.4 1069.7,1035.2 1070.1,1035.2 1070.6,1035.3 1071.0,1037.0 1071.5,1034.4 1071.9,1036.1 1072.4,1034.1 1072.8,1034.9 1073.3,1035.7 1073.7,1034.3 1074.2,1032.9 1074.6,1035.5 1075.1,1036.3 1075.5,1035.3 1076.0,1032.9 1076.4,1035.9 1076.9,1037.6 1077.3,1033.1 1077.8,1031.7 1078.2,1034.9 1078.7,1035.3 1079.1,1036.2 1079.6,1036.3 1080.0,1035.4 1080.5,1036.0 1080.9,1035.7 1081.4,1035.5 1081.8,1035.3 1082.3,1035.2 1082.7,1036.3 1083.2,1035.9 1083.6,1034.8 1084.1,1036.8 1084.5,1034.5 1085.0,1035.1 1085.4,1035.6 1085.8,1033.0 1085.9,1034.9 1086.3,1036.5 1086.8,1036.4 1087.2,1033.9 1087.7,1034.3 1088.1,1034.0 1088.6,1035.0 1089.0,1035.2 1089.5,1033.2 1089.9,1035.6 1090.4,1035.2 1090.8,1035.0 1091.3,1034.2 1091.7,1034.8 1092.2,1032.7 1092.6,1035.2 1093.1,1035.1 1093.5,1034.6 1094.0,1033.2 1094.4,1036.2 1094.9,1036.0 1095.3,1032.1 1095.8,1034.9 1096.2,1034.5 1096.7,1031.0 1097.1,1034.8 1097.6,1034.9 1098.0,1034.9 1098.5,1034.1 1098.9,1033.0 1099.4,1033.1 1099.8,1034.4 1100.3,1035.1 1100.7,1033.0 1101.2,1033.2 1101.6,1034.3 1102.1,1030.7 1102.5,1033.9 1103.0,1033.0 1103.4,1030.4 1103.9,1034.1 1104.3,1031.9 1104.8,1034.1 1105.2,1034.8 1105.7,1031.4 1106.1,1031.4 1106.6,1032.9 1107.0,1030.7 1107.5,1033.8 1107.9,1033.1 1108.4,1034.1 1108.8,1030.5 1109.3,1033.1 1109.3,1033.4 1109.7,1030.5 1110.2,1033.9 1110.6,1031.1 1111.1,1033.0 1111.5,1031.2 1112.0,1033.8 1112.4,1035.0 1112.9,1032.9 1113.3,1032.9 1113.8,1034.5 1114.2,1032.3 1114.7,1032.9 1115.1,1033.9 1115.6,1033.4 1115.8,1034.8 1116.0,1033.4 1116.5,1028.9 1116.9,1018.8 1117.4,1012.8 1117.5,1009.0 1117.8,1006.7 1118.3,1001.7 1118.7,996.7 1119.2,987.4 1119.6,986.0 1119.7,986.9 1120.1,983.8 1120.5,984.4 1121.0,983.3 1121.4,981.0 1121.9,980.1 1122.3,978.9 1122.8,979.8 1123.2,980.5 1123.7,978.9 1124.1,981.8 1124.6,976.3 1124.9,977.4 1125.0,979.0 1125.5,976.7 1125.9,978.8 1126.4,980.4 1126.8,979.0 1127.3,978.9 1127.7,980.7 1128.2,980.5 1128.6,981.4 1129.1,981.7 1129.5,980.7 1130.0,980.8 1130.4,982.3 1130.9,983.7 1131.3,983.9 1131.8,986.1 1132.2,985.9 1132.7,987.5 1133.1,987.2 1133.6,986.8 1134.0,989.6 1134.5,989.8 1134.9,988.8 1135.4,990.0 1135.8,992.9 1136.3,987.5 1136.7,993.9 1137.2,993.0 1137.6,993.4 1138.0,993.5 1138.1,992.1 1138.5,997.4 1139.0,994.3 1139.4,995.0 1139.9,996.9 1140.3,996.9 1140.8,996.7 1141.2,997.0 1141.7,996.2 1142.1,999.8 1142.6,997.5 1143.0,996.2 1143.5,1001.2 1143.9,1000.2 1144.4,1001.1 1144.8,1000.4 1145.3,1003.0 1145.7,1000.4 1146.2,999.2 1146.6,1002.5 1147.1,1003.6 1147.5,1003.5 1148.0,1005.5 1148.3,1004.0 1148.4,1002.7 1148.9,1002.8 1149.3,1004.3 1149.8,1003.1 1150.2,1003.1 1150.7,1001.0 1151.1,1002.9 1151.6,1001.7 1152.0,1003.7 1152.5,1003.6 1152.9,1004.4 1153.4,1005.8 1153.8,1003.3 1154.3,1005.4 1154.7,1002.1 1155.2,1003.8 1155.6,1004.9 1156.1,1006.2 1156.5,1002.3 1157.0,1003.4 1157.4,1004.0 1157.9,1003.7 1158.3,1002.6 1158.8,1001.8 1159.2,1002.4 1159.7,1003.9 1160.1,1002.3 1160.6,1006.4 1161.0,1005.8 1161.4,1001.8 1161.5,1003.6 1161.9,1006.1 1162.4,1006.3 1162.8,1006.1 1163.3,1002.9 1163.7,1004.5 1164.2,1006.9 1164.6,1005.6 1165.1,1005.1 1165.5,1006.6 1166.0,1007.5 1166.4,1006.7 1166.9,1007.1 1167.3,1008.5 1167.8,1006.7 1168.2,1006.6 1168.7,1009.1 1169.1,1006.8 1169.6,1009.4 1170.0,1008.1 1170.5,1010.4 1170.9,1008.1 1171.4,1011.4 1171.8,1010.6 1172.3,1010.1 1172.7,1007.8 1173.2,1010.8 1173.6,1010.0 1174.1,1009.8 1174.5,1012.9 1175.0,1012.5 1175.4,1013.4 1175.9,1010.2 1176.3,1009.4 1176.8,1010.0 1177.0,1012.9 1177.2,1013.1 1177.7,1009.6 1178.1,1013.3 1178.6,1011.4 1179.0,1010.4 1179.5,1011.9 1179.9,1012.7 1180.4,1011.7 1180.8,1011.7 1181.3,1010.8 1181.7,1010.1 1182.2,1011.4 1182.6,1009.8 1183.1,1012.6 1183.5,1010.7 1184.0,1013.5 1184.4,1009.7 1184.9,1013.6 1185.3,1010.6 1185.8,1009.2 1186.2,1012.1 1186.7,1012.8 1187.1,1011.6 1187.6,1011.1 1188.0,1012.1 1188.5,1012.2 1188.9,1010.0 1189.4,1011.1 1189.8,1013.7 1190.3,1011.9 1190.7,1012.5 1191.2,1014.0 1191.6,1010.6 1192.1,1011.8 1192.5,1010.4 1193.0,1011.2 1193.4,1011.9 1193.9,1009.4 1194.3,1011.3 1194.8,1011.3 1195.2,1012.4 1195.7,1009.5 1196.1,1009.3 1196.6,1011.5 1197.0,1009.5 1197.5,1011.1 1197.9,1011.6 1198.4,1009.7 1198.8,1010.6 1199.3,1009.4 1199.7,1007.0 1200.2,1008.8 1200.4,1008.0 1200.6,1010.7 1201.1,1009.2 1201.5,1010.4 1202.0,1007.2 1202.4,1011.9 1202.9,1010.1 1203.3,1009.9 1203.8,1011.1 1204.2,1012.5 1204.7,1010.3 1205.1,1010.8 1205.6,1010.0 1206.0,1009.6 1206.5,1008.2 1206.9,1010.1 1207.4,1009.8 1207.8,1009.8 1208.3,1012.6 1208.7,1009.6 1209.2,1007.9 1209.6,1010.3 1210.1,1011.4 1210.5,1009.4 1211.0,1012.2 1211.4,1009.4 1211.9,1010.7 1212.3,1011.0 1212.8,1012.5 1213.2,1010.6 1213.7,1009.6 1214.1,1008.4 1214.6,1008.5 1215.0,1009.8 1215.5,1011.6 1215.9,1008.6 1216.4,1009.9 1216.8,1007.0 1217.3,1009.4 1217.7,1007.3 1218.2,1008.0 1218.6,1008.9 1219.1,1007.9 1219.5,1008.5 1220.0,1010.1 1220.4,1008.6 1220.9,1007.7 1221.3,1007.0 1221.8,1007.9 1222.2,1010.0 1222.7,1008.4 1223.1,1008.2 1223.6,1009.3 1224.0,1009.4 1224.5,1009.6 1224.9,1007.7 1225.4,1007.0 1225.8,1005.9 1226.3,1007.2 1226.7,1007.5 1227.2,1008.9 1227.6,1008.3 1228.1,1007.1 1228.5,1009.0 1229.0,1006.1 1229.4,1006.3 1229.9,1006.1 1230.3,1006.2 1230.8,1007.2 1231.2,1006.4 1231.7,1006.5 1232.1,1009.2 1232.6,1005.5 1233.0,1006.0 1233.5,1007.0 1233.9,1007.8 1234.4,1007.8 1234.8,1006.8 1235.3,1006.6 1235.7,1006.7 1236.2,1008.0 1236.6,1005.8 1237.1,1003.9 1237.5,1007.2 1238.0,1005.4 1238.4,1006.8 1238.9,1008.6 1239.3,1006.9 1239.8,1009.1 1240.2,1004.6 1240.7,1007.0 1241.1,1007.2 1241.6,1007.7 1242.0,1005.6 1242.5,1006.8 1242.9,1006.7 1243.4,1006.6 1243.8,1004.7 1244.3,1004.2 1244.7,1007.1 1245.2,1006.9 1245.6,1006.5 1246.1,1007.2 1246.5,1007.8 1247.0,1004.8 1247.4,1007.4 1247.9,1008.3 1248.3,1007.6 1248.8,1007.1 1249.2,1007.2 1249.7,1004.4 1250.1,1005.6 1250.6,1007.6 1251.0,1008.2 1251.5,1006.9 1251.9,1005.7 1252.4,1006.1 1252.5,1007.4 1252.8,1008.9 1253.3,1007.4 1253.7,1005.8 1254.2,1007.4 1254.6,1007.3 1255.1,1010.0 1255.5,1007.9 1256.0,1007.4 1256.4,1007.5 1256.9,1006.2 1257.3,1006.7 1257.8,1007.6 1258.2,1007.4 1258.7,1008.9 1259.1,1009.0 1259.6,1010.3 1260.0,1011.2 1260.5,1009.5 1260.9,1009.2 1261.4,1007.0 1261.6,1010.0 1261.8,1010.2 1262.3,1007.3 1262.7,1006.1 1263.2,1003.5 1263.6,1003.3 1264.1,1000.2 1264.5,998.6 1265.0,993.5 1265.0,998.5 1265.4,992.1 1265.9,989.9 1266.3,989.5 1266.8,986.7 1267.2,986.3 1267.7,984.4 1268.0,983.8 1268.1,985.8 1268.6,986.0 1269.0,983.1 1269.5,983.5 1269.9,983.5 1270.4,983.7 1270.7,986.2 1270.8,985.6 1271.3,985.4 1271.7,985.8 1272.2,984.3 1272.6,985.6 1273.1,984.6 1273.5,984.0 1274.0,987.5 1274.4,983.4 1274.9,986.1 1275.3,985.8 1275.8,984.8 1276.2,987.0 1276.7,988.0 1277.1,989.1 1277.6,987.9 1278.0,993.4 1278.5,990.4 1278.9,988.3 1279.4,988.5 1279.8,990.9 1280.3,991.2 1280.7,993.2 1281.2,992.0 1281.6,992.7 1282.1,992.3 1282.5,992.6 1283.0,993.3 1283.4,998.2 1283.8,993.6 1283.9,991.9 1284.3,995.7 1284.8,993.1 1285.2,996.6 1285.7,996.8 1286.1,995.9 1286.6,996.0 1287.0,996.1 1287.5,997.1 1287.9,996.3 1288.4,997.8 1288.8,999.6 1289.3,997.1 1289.7,997.4 1290.2,997.6 1290.6,999.5 1291.1,999.7 1291.5,1000.9 1292.0,1000.2 1292.4,999.6 1292.9,1000.3 1293.3,998.2 1293.8,1000.8 1294.2,1000.4 1294.7,1003.1 1295.1,1002.3 1295.6,999.6 1296.0,1000.1 1296.5,1002.1 1296.9,998.4 1297.4,1000.0 1297.8,1001.8 1298.3,1002.2 1298.7,1001.7 1299.2,1003.1 1299.4,1001.2 1299.6,1001.8 1300.1,1001.5 1300.5,1000.4 1301.0,1001.9 1301.4,1001.2 1301.9,1002.1 1302.3,998.7 1302.8,1002.3 1303.2,1001.5 1303.7,1001.4 1304.1,1002.4 1304.6,1001.8 1305.0,1003.6 1305.5,1004.1 1305.9,1003.7 1306.4,1003.9 1306.8,1003.1 1307.3,1002.8 1307.7,1001.1 1308.2,1002.4 1308.6,1004.5 1309.1,1003.9 1309.5,1002.4 1310.0,1003.2 1310.4,1004.5 1310.9,1002.9 1311.3,1005.3 1311.8,1002.3 1312.2,1004.3 1312.7,1002.2 1313.1,1003.6 1313.6,1003.8 1314.0,1004.2 1314.5,1000.6 1314.9,1004.2 1315.4,1005.1 1315.8,1005.3 1316.3,1003.3 1316.7,1002.2 1317.2,1003.7 1317.6,1004.2 1318.1,1003.6 1318.5,1005.4 1319.0,1004.5 1319.4,1003.2 1319.9,1005.0 1320.3,1005.0 1320.8,1003.4 1321.2,1004.8 1321.7,1004.5 1322.1,1004.5 1322.6,1002.4 1323.0,1008.6 1323.5,1004.9 1323.9,1004.1 1324.4,1004.6 1324.8,1004.6 1325.3,1003.8 1325.7,1003.4 1326.2,1004.3 1326.6,1003.4 1327.1,1003.6 1327.5,1002.7 1328.0,1003.8 1328.4,1005.5 1328.8,1001.8 1328.9,1004.3 1329.3,1003.8 1329.8,1003.6 1330.2,1004.8 1330.7,1006.3 1331.1,1003.2 1331.6,1002.2 1332.0,1004.7 1332.5,1004.5 1332.9,1003.5 1333.4,1002.2 1333.8,1002.4 1334.3,1006.2 1334.7,1004.0 1335.2,1003.3 1335.6,1006.5 1336.1,1003.4 1336.5,1002.9 1337.0,1004.8 1337.4,1004.5 1337.9,1006.1 1338.3,1002.0 1338.8,1004.4 1339.2,1001.8 1339.7,1004.6 1340.1,1003.1 1340.6,1003.3 1341.0,1003.0 1341.5,1005.0 1341.9,1006.0 1342.4,1003.8 1342.8,1003.5 1343.3,1003.2 1343.7,1004.5 1344.2,1002.4 1344.6,1008.4 1345.1,1003.4 1345.5,1005.9 1346.0,1003.9 1346.4,1001.9 1346.9,1001.6 1347.3,1000.2 1347.8,1002.7 1348.2,1003.2 1348.7,1002.0 1349.1,1006.6 1349.6,1006.3 1350.0,1001.1 1350.5,1004.1 1350.9,1005.0 1351.4,1002.9 1351.8,1003.0 1352.3,1004.7 1352.7,1004.0 1353.2,1001.7 1353.6,1004.8 1354.1,1002.6 1354.5,1005.6 1355.0,1001.9 1355.4,1000.1 1355.9,1003.2 1356.3,1004.6 1356.8,1003.7 1357.2,1003.2 1357.7,1001.7 1358.1,1004.1 1358.6,1000.5 1359.0,1003.9 1359.5,1001.2 1359.9,1002.0 1360.4,1001.0 1360.8,1001.5 1361.3,1004.6 1361.7,1001.1 1362.2,1002.9 1362.6,1002.7 1363.1,1003.9 1363.5,1000.7 1364.0,1002.5 1364.4,1003.6 1364.9,1005.4 1365.3,1000.8 1365.8,1001.2 1366.2,1002.3 1366.7,1004.2 1367.1,1000.9 1367.6,1003.3 1368.0,1001.4 1368.5,1000.8 1368.9,1000.0 1369.4,1002.3 1369.8,1003.4 1370.3,1001.9 1370.7,999.2 1371.2,1001.2 1371.6,1003.2 1372.1,1005.8 1372.5,1002.3 1373.0,1003.8 1373.4,1000.2 1373.9,1000.2 1374.3,1004.9 1374.8,1002.6 1375.2,1001.5 1375.7,1001.1 1376.1,998.3 1376.6,1002.8 1377.0,998.9 1377.5,999.0 1377.7,1001.5 1377.9,1003.6 1378.4,1001.0 1378.8,1002.0 1379.3,1000.9 1379.7,1002.0 1380.2,999.3 1380.6,1005.7 1381.1,1000.2 1381.5,1002.1 1382.0,998.7 1382.4,1003.7 1382.9,1001.9 1383.3,1004.0 1383.8,1000.4 1384.2,1002.6 1384.7,1001.0 1385.1,1001.2 1385.6,1002.9 1386.0,1000.0 1386.5,1002.1 1386.9,1003.7 1387.4,1003.4 1387.8,1002.5 1388.3,1001.5 1388.7,999.8 1389.2,1002.9 1389.6,1000.1 1390.1,1002.6 1390.5,1000.5 1391.0,1000.9 1391.4,1000.9 1391.9,1001.7 1392.3,1000.3 1392.8,1001.1 1393.2,1000.1 1393.7,1001.5 1394.1,1001.1 1394.6,1001.3 1395.0,999.6 1395.5,1001.1 1395.9,1000.7 1396.4,1001.4 1396.8,1000.7 1397.3,999.3 1397.7,1001.5 1398.2,999.6 1398.6,1000.9 1399.1,996.8 1399.5,1001.1 1400.0,1001.3 1400.4,999.2 1400.9,1001.2 1401.3,999.9 1401.8,1002.2 1402.2,1001.2 1402.7,998.6 1403.1,1000.0 1403.6,997.9 1404.0,999.8 1404.5,1000.9 1404.9,1001.3 1405.4,1000.0 1405.8,999.8 1406.3,1000.3 1406.7,999.3 1407.2,1000.5 1407.6,1001.5 1408.1,1000.3 1408.5,1001.1 1409.0,998.9 1409.4,999.3 1409.9,1000.4 1410.3,1002.6 1410.8,1001.2 1411.2,1002.1 1411.7,999.9 1412.1,1001.4 1412.6,997.6 1413.0,1000.4 1413.5,997.0 1413.9,1001.3 1414.4,1000.3 1414.8,1001.2 1415.3,1000.2 1415.7,999.0 1416.2,998.6 1416.6,999.8 1417.1,1001.5 1417.5,1000.4 1418.0,998.8 1418.4,998.7 1418.9,998.5 1419.3,999.1 1419.8,999.3 1420.2,998.7 1420.7,999.4 1421.1,997.3 1421.6,1001.4 1421.6,999.6" fill="none" stroke="#000" stroke-width="3.8" stroke-linejoin="round"/>
<path d="M1421.6,1000.2 1421.9,1003.3 1422.2,993.9 1422.5,1004.4 1422.8,1000.6 1423.0,999.1 1423.1,999.2 1423.4,1000.2 1423.7,1001.5 1424.0,1004.5 1424.3,1004.4 1424.6,1004.9 1424.9,999.8 1425.0,1000.6 1425.2,1007.4 1425.5,1005.5 1425.8,1005.8 1426.1,1005.1 1426.4,999.2 1426.7,1004.3 1427.0,1002.2 1427.3,1000.7 1427.6,997.7 1427.9,999.2 1428.0,998.6 1428.2,1000.8 1428.5,998.5 1428.8,1001.6 1429.1,995.5 1429.4,998.0 1429.7,998.9 1430.0,997.4 1430.3,993.3 1430.6,997.5 1430.9,995.8 1431.2,993.8 1431.3,994.9 1431.5,992.0 1431.8,993.6 1432.1,990.9 1432.3,992.5 1432.4,997.1 1432.7,1002.0 1433.0,1013.0 1433.0,1008.5 1433.3,1010.9 1433.6,1008.5 1433.9,1012.0 1434.2,1012.8 1434.5,1012.5 1434.8,1012.8 1435.1,1017.0 1435.4,1017.6 1435.7,1011.7 1436.0,1017.8 1436.0,1010.9 1436.3,1013.7 1436.6,1015.5 1436.9,1016.7 1437.2,1014.4 1437.5,1015.7 1437.8,1018.1 1438.1,1016.7 1438.4,1017.3 1438.5,1020.6 1438.7,1022.8 1439.0,1022.9 1439.3,1025.4 1439.5,1027.0 1439.6,1027.1 1439.9,1030.6 1440.2,1032.9 1440.5,1040.6 1440.5,1038.8 1440.8,1038.8 1441.1,1039.7 1441.4,1040.6 1441.7,1042.9 1442.0,1038.9 1442.3,1038.8 1442.6,1040.3 1442.9,1037.9 1443.0,1043.1 1443.2,1042.5 1443.5,1042.3 1443.8,1040.8 1444.1,1043.2 1444.4,1041.2 1444.7,1043.5 1445.0,1042.0 1445.3,1039.0 1445.6,1045.7 1445.9,1043.0 1446.0,1045.9 1446.2,1047.7 1446.5,1048.8 1446.8,1047.0 1447.0,1051.8 1447.1,1051.4 1447.4,1054.6 1447.7,1046.2 1448.0,1051.7 1448.3,1052.5 1448.6,1056.5 1448.9,1050.7 1449.2,1046.4 1449.5,1050.3 1449.8,1054.5 1450.0,1055.9 1450.1,1058.2 1450.4,1055.2 1450.7,1052.5 1451.0,1056.8 1451.3,1054.8 1451.6,1054.6 1451.9,1055.3 1452.2,1058.5 1452.5,1053.5 1452.8,1053.4 1453.0,1055.8 1453.1,1056.6 1453.4,1057.2 1453.7,1059.5 1454.0,1064.9 1454.0,1067.2 1454.3,1066.1 1454.6,1066.5 1454.9,1068.3 1455.2,1060.9 1455.5,1062.5 1455.8,1068.4 1456.1,1064.1 1456.4,1065.1 1456.7,1068.0 1457.0,1065.2 1457.3,1067.6 1457.5,1064.1" fill="none" stroke="#000" stroke-width="2.2" stroke-linejoin="round"/>
<path d="M1457.0,1066.3 1457.5,1067.1 1457.9,1067.7 1458.4,1069.2 1458.8,1072.4 1459.0,1069.1 1459.3,1072.6 1459.7,1073.9 1460.2,1073.0 1460.6,1073.7 1461.1,1076.3 1461.5,1078.4 1462.0,1080.8 1462.4,1080.6 1462.9,1082.7 1463.3,1081.5 1463.8,1082.2 1464.2,1082.3 1464.7,1084.1 1465.1,1086.0 1465.5,1087.4 1465.6,1085.7 1466.0,1089.1 1466.5,1088.7 1466.9,1088.7 1467.4,1089.2 1467.8,1093.2 1468.3,1091.6 1468.7,1090.9 1469.2,1091.4 1469.6,1095.3 1470.1,1092.9 1470.5,1095.6 1471.0,1096.5 1471.4,1092.5 1471.9,1099.2 1472.3,1096.3 1472.8,1095.8 1473.2,1097.2 1473.7,1099.2 1473.7,1099.0 1474.1,1099.8 1474.6,1099.1 1475.0,1102.3 1475.5,1103.4 1475.9,1104.6 1476.4,1104.4 1476.8,1106.3 1477.3,1107.3 1477.7,1106.5 1478.2,1107.6 1478.6,1108.1 1479.1,1109.0 1479.5,1112.6 1480.0,1108.1 1480.4,1110.7 1480.9,1112.6 1481.3,1110.5 1481.8,1112.2 1482.2,1116.8 1482.7,1114.7 1483.1,1116.4 1483.6,1118.4 1484.0,1117.8 1484.3,1118.7" fill="none" stroke="#000" stroke-width="3.4" stroke-linejoin="round"/>
<line x1="1425.1" y1="952.2" x2="1425.1" y2="1023.1" stroke="#000" stroke-width="1.8"/>
<line x1="1432.3" y1="952.2" x2="1432.3" y2="1020" stroke="#000" stroke-width="1.8"/>
<line x1="1439.8" y1="952.2" x2="1439.8" y2="1062.6" stroke="#000" stroke-width="1.8"/>
<line x1="1446.6" y1="952.2" x2="1446.6" y2="1073.6" stroke="#000" stroke-width="1.8"/>
<line x1="1453.2" y1="952.2" x2="1453.2" y2="1076.1" stroke="#000" stroke-width="1.8"/>
<line x1="1457.4" y1="1047.9" x2="1457.4" y2="1072" stroke="#000" stroke-width="1.8"/>
<line x1="1436.7" y1="1004" x2="1436.7" y2="1018" stroke="#000" stroke-width="1.8"/>
<line x1="1444.4" y1="1021.6" x2="1444.4" y2="1040" stroke="#000" stroke-width="1.8"/>
<line x1="1451" y1="1029" x2="1451" y2="1050" stroke="#000" stroke-width="1.8"/>
<text transform="translate(1444.21,940.70) scale(0.9674,1)" font-size="39.27" fill="#000" stroke="#000" stroke-width="0.7">#</text>
<text transform="translate(1462.11,991.10) scale(0.9477,1)" font-size="39.12" fill="#000" stroke="#000" stroke-width="0.7">#</text>
<text transform="translate(1480.81,1039.60) scale(0.9487,1)" font-size="39.85" fill="#000" stroke="#000" stroke-width="0.7">#</text>
<text transform="translate(2.17,1267.97) scale(0.8641,1)" font-size="53.00" font-weight="bold" fill="#000">C</text>
<text transform="translate(1056.80,1297.40) scale(0.9768,1)" font-size="41.89" fill="#000">Ani9 (3 µM)</text>
<rect x="816.8" y="1324.6" width="679.2" height="17.3" fill="#808080" stroke="#000" stroke-width="1.9"/>
<path d="M158.3,1317 V1468.4 H346.4" fill="none" stroke="#000" stroke-width="2.8"/>
<text transform="translate(142.70,1450.73) rotate(-90) scale(0.9622,1)" font-size="42.04">1 mN</text>
<text transform="translate(189.96,1519.00) scale(0.9533,1)" font-size="42.47" fill="#000">10 min</text>
<path d="M239.0,1439.6 239.9,1431.8 240.8,1437.1 241.7,1436.5 242.6,1437.2 243.5,1438.4 244.4,1435.5 245.3,1439.2 246.2,1439.1 247.1,1447.9 248.0,1443.7 248.9,1442.5 249.5,1442.8 249.8,1441.2 250.7,1437.9 251.6,1436.7 252.5,1436.2 253.4,1432.6 253.4,1434.8 254.3,1433.5 255.2,1434.2 256.1,1437.8 257.0,1436.9 257.9,1435.2 258.8,1436.1 259.7,1438.1 260.6,1441.7 261.0,1438.1 261.5,1437.4 262.4,1439.5 263.3,1435.8 264.2,1436.2 265.1,1438.4 266.0,1437.9 266.9,1436.6 267.8,1437.3 268.7,1430.3 269.6,1436.6 270.5,1433.4 271.4,1431.3 272.3,1434.6 273.2,1435.7 274.1,1433.4 275.0,1431.6 275.9,1433.2 276.8,1433.1 277.7,1435.7 278.6,1434.6 279.5,1433.1 280.4,1434.5 281.3,1431.8 282.0,1429.9 282.2,1432.6 283.1,1432.9 284.0,1431.3 284.9,1429.9 285.8,1431.7 286.7,1426.5 287.6,1431.9 288.5,1432.3 289.4,1428.1 290.3,1430.8 291.2,1429.1 292.1,1432.2 293.0,1427.1 293.9,1428.5 294.8,1431.9 295.7,1433.2 296.6,1426.8 297.5,1429.1 298.4,1431.0 299.3,1429.4 300.2,1433.4 301.1,1428.5 302.0,1430.7 302.9,1428.2 303.8,1432.7 304.7,1430.5 305.6,1429.4 306.5,1426.5 307.4,1432.7 308.3,1431.8 309.2,1431.6 310.1,1432.3 311.0,1430.8 311.9,1428.5 312.8,1427.8 313.7,1427.7 314.6,1431.9 315.5,1426.9 316.4,1427.8 317.3,1428.4 318.2,1429.5 319.1,1430.3 320.0,1426.8 320.9,1425.2 321.0,1428.4 321.8,1431.2 322.7,1430.7 323.6,1429.5 324.5,1428.2 325.4,1429.1 326.3,1428.2 327.2,1430.1 328.1,1427.1 329.0,1428.4 329.9,1428.1 330.8,1429.3 331.7,1428.7 332.6,1433.2 333.5,1431.7 334.4,1431.4 335.3,1424.3 336.2,1426.6 337.1,1426.3 338.0,1428.5 338.9,1423.2 339.8,1429.1 340.7,1429.8 341.6,1425.1 342.5,1425.0 343.4,1425.3 344.3,1426.9 345.2,1428.3 346.1,1431.2 347.0,1427.1 347.9,1428.4 348.8,1427.3 349.7,1430.2 350.6,1428.6 351.5,1429.5 352.0,1424.8 352.4,1425.8 353.3,1424.7 354.2,1429.1 355.1,1428.0 356.0,1425.9 356.9,1425.2 357.8,1426.9 358.7,1424.8 359.6,1423.9 360.5,1426.5 361.4,1430.8 362.3,1426.0 363.2,1424.6 364.1,1423.2 365.0,1422.6 365.9,1426.1 366.8,1427.2 367.7,1425.7 368.6,1426.0 369.5,1425.6 370.4,1425.5 371.3,1422.2 372.2,1423.7 373.0,1425.0 373.1,1423.4 374.0,1423.6 374.9,1422.8 375.8,1423.5 376.7,1425.8 377.6,1423.6 378.5,1423.6 379.4,1425.3 380.3,1425.1 381.2,1427.0 382.1,1419.7 383.0,1424.3 383.9,1422.1 384.8,1422.9 385.7,1424.3 386.6,1424.8 387.5,1424.7 388.4,1422.7 389.3,1425.2 390.2,1421.7 391.1,1421.3 392.0,1422.9 392.9,1420.3 393.8,1425.2 394.0,1423.6 394.7,1425.8 395.6,1421.8 396.5,1420.5 397.4,1421.5 398.3,1422.8 399.2,1420.5 400.1,1422.1 401.0,1421.6 401.9,1424.9 402.8,1420.9 403.7,1423.8 404.6,1420.9 405.5,1419.9 406.4,1420.3 407.3,1419.5 408.2,1422.1 409.1,1424.3 410.0,1423.0 410.9,1423.7 411.8,1425.9 412.0,1423.5 412.7,1423.3 413.6,1422.6 414.5,1420.2 415.4,1424.8 416.3,1420.8 417.2,1425.2 418.1,1424.9 419.0,1427.4 419.9,1425.7 420.8,1424.2 421.7,1426.6 422.6,1425.4 423.5,1426.3 424.4,1427.2 425.3,1427.2 426.2,1427.4 427.1,1426.5 428.0,1427.9 428.0,1424.2 428.9,1427.4 429.8,1425.7 430.7,1429.9 431.6,1430.7 432.5,1424.3 433.4,1427.4 434.3,1427.2 435.2,1425.2 436.1,1427.9 437.0,1426.2 437.9,1423.2 438.8,1425.6 439.7,1426.1 440.6,1426.5 441.5,1423.8 442.4,1426.9 443.3,1427.5 444.2,1423.7 445.1,1424.0 446.0,1425.1 446.9,1424.1 447.8,1428.4 448.7,1425.9 448.8,1423.1 449.6,1424.0 450.5,1426.4 451.4,1432.2 452.3,1429.0 453.2,1429.9 454.1,1431.6 455.0,1431.5 455.9,1436.9 456.5,1432.6 456.8,1434.3 457.7,1433.2 458.6,1433.8 459.5,1430.2 460.4,1435.2 461.3,1432.1 462.2,1431.7 463.1,1429.6 464.0,1429.5 464.9,1431.9 465.8,1432.9 466.7,1432.4 467.6,1433.0 468.5,1431.9 469.4,1430.2 470.3,1431.4 471.2,1430.9 472.1,1429.3 473.0,1430.5 473.9,1431.6 474.8,1429.5 475.7,1427.8 476.6,1429.5 477.5,1431.9 478.4,1427.9 479.3,1427.4 480.2,1427.0 481.1,1429.5 482.0,1423.6 482.9,1426.9 483.8,1428.9 484.7,1425.0 485.6,1428.8 486.5,1427.3 487.4,1424.8 488.3,1425.7 489.2,1422.2 490.0,1423.4 490.1,1428.4 491.0,1424.1 491.9,1429.2 492.8,1426.4 493.7,1428.4 494.6,1427.2 495.5,1422.7 496.4,1425.7 497.3,1427.9 498.2,1425.9 499.1,1425.5 500.0,1429.1 500.9,1427.9 501.8,1426.0 502.7,1428.0 503.0,1431.4 503.6,1429.2 504.5,1431.6 505.4,1433.1 506.3,1430.3 507.2,1427.5 508.1,1426.7 509.0,1429.0 509.9,1431.1 510.8,1430.1 511.7,1430.4 512.6,1428.5 513.5,1429.6 514.4,1428.1 515.3,1428.1 516.2,1426.2 517.1,1425.2 518.0,1427.2 518.9,1426.2 519.8,1426.3 520.7,1429.4 521.6,1428.3 522.5,1434.0 523.4,1430.9 524.3,1427.3 525.2,1429.4 526.1,1428.9 527.0,1426.7 527.9,1429.8 528.8,1426.5 529.7,1421.4 530.6,1428.2 531.5,1426.3 532.4,1430.2 533.3,1426.4 534.2,1424.8 535.1,1429.8 536.0,1425.4 536.9,1427.1 537.8,1429.8 538.7,1427.5 539.6,1426.7 540.5,1426.9 541.4,1428.3 542.3,1425.2 542.5,1427.5 543.2,1427.9 544.1,1431.6 545.0,1427.1 545.9,1425.4 546.8,1428.5 547.7,1426.9 548.6,1428.2 549.5,1428.2 550.4,1430.4 551.3,1427.3 552.2,1428.1 553.1,1423.5 554.0,1426.3 554.9,1431.6 555.8,1428.2 556.7,1427.8 557.6,1426.9 558.5,1430.5 559.4,1430.3 560.3,1427.8 561.2,1431.2 562.1,1431.1 563.0,1432.2 563.9,1429.8 564.8,1434.2 565.7,1432.4 566.6,1431.3 567.5,1430.5 568.4,1431.0 568.5,1433.3 569.3,1430.6 570.2,1432.1 571.1,1430.6 572.0,1431.1 572.9,1429.4 573.8,1426.6 574.7,1421.8 575.6,1424.7 576.4,1425.5 576.5,1424.5 577.4,1425.2 578.3,1423.4 579.2,1423.4 580.1,1422.4 581.0,1426.9 581.9,1425.3 582.8,1423.8 583.7,1422.0 584.6,1424.2 585.5,1427.8 586.4,1426.5 587.3,1424.0 588.2,1428.0 589.1,1428.7 590.0,1428.0 590.9,1427.6 591.8,1428.4 592.7,1427.4 593.6,1427.8 594.5,1424.9 595.4,1429.0 596.3,1427.3 597.2,1430.6 598.1,1423.2 599.0,1427.6 599.9,1428.9 600.8,1426.6 601.7,1427.9 602.6,1428.8 603.5,1428.7 604.4,1426.5 605.3,1427.1 606.2,1429.6 607.1,1430.6 607.6,1428.4 608.0,1427.8 608.9,1427.6 609.8,1428.8 610.7,1424.5 611.6,1422.9 612.5,1425.2 613.4,1422.7 614.3,1423.0 615.2,1423.9 615.4,1424.8 616.1,1422.7 617.0,1427.0 617.9,1423.4 618.8,1428.3 619.7,1425.6 620.0,1426.0 620.6,1429.5 621.5,1427.6 622.4,1426.1 623.3,1426.3 624.2,1427.7 625.1,1426.5 626.0,1426.0 626.9,1427.7 627.8,1424.1 628.7,1423.6 629.6,1423.1 630.4,1426.0 630.5,1426.2 631.4,1427.0 632.3,1424.7 633.2,1424.3 634.1,1426.4 635.0,1424.4 635.9,1426.7 636.8,1427.1 637.7,1424.5 638.6,1425.5 639.5,1425.7 640.4,1429.6 641.3,1432.1 642.2,1427.3 643.1,1427.0 644.0,1422.6 644.9,1427.0 645.8,1427.4 646.7,1425.6 647.6,1429.1 648.5,1425.2 649.4,1427.5 650.3,1428.7 651.2,1426.3 652.1,1430.3 653.0,1431.4 653.9,1427.0 654.8,1426.4 655.7,1430.5 656.6,1430.0 657.5,1427.8 658.4,1429.5 659.3,1430.3 660.2,1430.5 661.1,1432.6 662.0,1432.3 662.9,1435.1 663.8,1434.9 664.7,1433.7 665.6,1434.5 666.5,1435.3 667.4,1434.4 668.3,1430.6 669.2,1434.3 669.5,1433.3 670.1,1436.1 671.0,1433.3 671.9,1433.5 672.8,1432.9 673.7,1435.3 674.6,1432.4 675.5,1430.9 676.4,1431.6 677.3,1430.0 678.2,1430.8 679.1,1430.3 680.0,1430.6 680.9,1433.7 681.8,1429.3 682.7,1429.3 683.6,1428.7 684.5,1430.1 685.4,1426.4 686.3,1426.6 687.2,1427.7 688.1,1428.8 689.0,1427.6 689.9,1426.3 690.8,1425.2 691.7,1427.5 692.6,1429.5 693.5,1427.3 694.4,1426.5 695.3,1426.7 696.2,1423.8 697.1,1424.4 698.0,1424.3 698.0,1425.5 698.9,1424.8 699.8,1422.1 700.7,1426.1 701.6,1427.6 702.5,1423.8 703.4,1424.3 704.3,1423.9 705.2,1424.7 706.1,1420.1 707.0,1425.3 707.9,1421.8 708.8,1424.5 709.7,1422.4 710.6,1420.9 711.5,1421.0 712.4,1422.8 713.3,1419.4 714.2,1419.6 715.1,1419.3 716.0,1416.6 716.9,1421.9 717.8,1421.1 718.7,1419.6 719.6,1421.5 720.5,1417.4 721.4,1418.3 721.6,1422.0 722.3,1421.6 723.2,1415.8 724.1,1413.3 725.0,1418.1 725.9,1423.5 726.8,1421.9 727.7,1422.7 728.6,1425.0 729.5,1423.0 730.4,1425.5 731.3,1427.6 732.0,1427.7 732.2,1427.4 733.1,1425.1 734.0,1426.8 734.9,1425.0 735.8,1427.9 736.7,1430.6 737.6,1424.3 738.5,1420.3 739.4,1422.9 740.3,1424.7 741.2,1426.1 742.1,1426.2 743.0,1422.3 743.9,1421.4 744.8,1425.2 745.7,1420.9 746.6,1424.3 747.5,1422.0 748.4,1423.4 749.3,1423.3 750.2,1423.2 751.1,1423.1 752.0,1419.3 752.9,1421.0 753.8,1420.5 754.7,1420.8 755.4,1422.5 755.6,1419.8 756.5,1418.5 757.4,1418.3 758.3,1419.0 759.2,1421.2 760.1,1418.4 761.0,1421.9 761.9,1420.7 762.8,1419.4 763.7,1417.0 764.6,1419.8 765.5,1421.0 766.4,1416.3 767.3,1421.4 768.2,1423.1 769.1,1420.7 770.0,1420.6 770.9,1424.4 771.8,1422.6 772.7,1418.1 773.6,1419.1 774.5,1419.0 775.4,1418.9 776.3,1414.5 777.2,1420.0 778.1,1418.0 779.0,1419.3 779.9,1418.9 780.8,1420.8 781.7,1418.7 782.6,1417.4 783.5,1419.8 784.4,1421.9 785.3,1418.7 786.2,1421.6 787.1,1419.8 788.0,1417.9 788.9,1421.7 789.8,1417.6 790.7,1420.6 791.6,1418.0 792.5,1419.5 793.4,1416.3 794.3,1416.6 794.5,1420.4 795.2,1420.5 796.1,1421.7 797.0,1422.4 797.9,1425.6 798.8,1423.9 799.7,1425.6 800.6,1429.2 801.5,1429.8 802.3,1431.4 802.4,1432.5 803.3,1431.4 804.2,1430.1 805.1,1432.7 806.0,1430.9 806.9,1430.1 807.5,1426.9 807.8,1425.5 808.7,1423.3 809.6,1425.0 810.5,1421.7 811.4,1424.0 812.3,1426.9 813.2,1428.9 814.1,1427.7 815.0,1423.8 815.9,1425.8 816.8,1423.4 817.7,1426.1 818.6,1424.5 819.5,1426.1 820.4,1429.5 821.3,1426.7 822.2,1428.9 823.1,1424.8 824.0,1423.1 824.9,1426.0 825.8,1427.0 826.7,1422.5 827.6,1423.0 828.5,1419.9 829.4,1421.8 830.3,1424.1 831.2,1422.3 832.1,1421.0 833.0,1419.0 833.9,1422.1 834.8,1423.3 835.7,1422.9 836.6,1422.0 837.5,1418.7 838.4,1424.1 839.3,1421.2 840.2,1420.4 841.1,1421.9 842.0,1416.3 842.9,1419.4 843.8,1419.6 844.7,1420.5 845.6,1422.5 846.5,1420.9 847.4,1416.0 848.3,1418.0 849.2,1419.3 850.1,1419.2 851.0,1416.3 851.8,1414.9 851.9,1419.2 852.8,1419.6 853.7,1419.1 854.6,1415.8 855.5,1422.4 856.4,1414.3 857.3,1418.3 858.2,1423.9 859.1,1420.4 860.0,1420.9 860.9,1418.3 861.8,1423.1 862.7,1418.7 863.6,1421.3 864.5,1421.6 865.4,1419.5 866.3,1423.2 867.2,1419.3 868.1,1420.4 869.0,1422.0 869.9,1421.6 870.0,1423.3 870.8,1426.5 871.7,1426.7 872.6,1428.2 873.5,1430.5 874.4,1433.1 875.0,1437.1 875.3,1434.8 876.2,1434.0 877.1,1431.4 878.0,1428.0 878.9,1429.4 879.8,1424.3 880.4,1424.7 880.7,1429.0 881.6,1427.8 882.5,1432.6 883.4,1433.2 884.3,1438.3 885.2,1440.0 885.6,1443.5 886.1,1443.1 887.0,1443.7 887.9,1446.1 888.8,1443.3 889.7,1443.1 890.6,1441.1 891.5,1439.8 892.4,1437.9 893.3,1435.1 894.2,1437.8 895.1,1440.7 896.0,1438.3 896.0,1436.1 896.9,1439.5 897.8,1435.4 898.7,1433.9 899.6,1432.1 900.5,1431.8 901.4,1432.7 902.3,1436.8 903.2,1432.6 904.1,1429.9 905.0,1429.8 905.9,1430.1 906.5,1426.9 906.8,1430.0 907.7,1431.4 908.6,1430.7 909.5,1430.9 910.4,1427.0 911.3,1425.4 912.2,1430.9 913.1,1431.1 914.0,1425.8 914.9,1428.2 915.8,1428.0 916.7,1428.8 917.6,1428.1 918.5,1426.4 919.4,1427.3 920.3,1427.2 921.2,1426.5 922.1,1422.7 923.0,1419.6 923.9,1423.3 924.8,1422.0 925.7,1425.4 926.6,1426.6 927.3,1425.7 927.5,1424.9 928.4,1427.8 929.3,1432.3 930.2,1431.2 931.1,1436.2 932.0,1438.4 932.5,1438.8 932.9,1440.9 933.8,1436.7 934.7,1439.2 935.6,1435.6 936.5,1435.2 937.4,1434.4 938.3,1437.0 939.2,1434.5 940.1,1435.9 941.0,1433.5 941.9,1437.3 942.8,1439.2 943.7,1436.1 944.6,1438.3 945.5,1436.3 946.4,1438.9 947.3,1435.1 948.0,1431.0 948.2,1436.6 949.1,1434.7 950.0,1433.0 950.9,1433.9 951.8,1432.5 952.7,1435.6 953.6,1434.6 954.5,1439.9 955.4,1439.5 956.3,1435.2 957.2,1435.3 958.1,1437.5 959.0,1435.6 959.9,1439.3 960.8,1440.3 961.7,1439.4 962.6,1440.1 963.5,1442.7 964.4,1445.3 965.3,1446.2 966.2,1443.9 966.4,1445.2 967.1,1441.8 968.0,1443.1 968.9,1440.2 969.8,1442.7 970.7,1438.7 971.6,1438.3 972.5,1439.7 973.4,1440.6 974.3,1436.3 975.2,1437.0 976.1,1438.1 977.0,1438.0 977.9,1435.4 978.8,1436.5 979.7,1435.5 980.6,1438.2 981.5,1436.5 982.4,1432.1 983.3,1429.3 984.2,1433.0 985.1,1435.3 986.0,1433.2 986.9,1433.9 987.8,1430.8 988.7,1428.2 989.6,1431.6 989.8,1430.8 990.5,1432.2 991.4,1428.8 992.3,1431.8 993.2,1431.1 994.1,1434.3 995.0,1432.5 995.9,1432.6 996.8,1433.1 997.7,1437.3 998.6,1435.9 999.5,1434.6 1000.4,1434.4 1001.3,1434.7 1002.2,1440.2 1002.8,1434.8 1003.1,1435.5 1004.0,1437.6 1004.9,1438.0 1005.8,1434.6 1006.7,1435.1 1007.6,1434.2 1008.5,1433.6 1009.4,1430.8 1010.3,1432.7 1010.6,1429.9 1011.2,1432.2 1012.1,1427.3 1013.0,1430.6 1013.9,1426.8 1014.8,1425.7 1015.7,1429.5 1016.6,1427.5 1017.5,1429.7 1018.4,1427.0 1019.3,1431.9 1020.2,1429.5 1021.1,1426.9 1022.0,1429.1 1022.9,1430.8 1023.8,1427.8 1024.7,1429.9 1025.6,1433.2 1026.5,1431.4 1027.4,1429.4 1028.3,1427.9 1029.2,1430.0 1030.1,1426.2 1031.0,1422.6 1031.9,1426.7 1032.8,1426.5 1033.7,1432.1 1034.6,1429.7 1035.5,1427.2 1036.4,1426.4 1037.3,1429.6 1038.2,1427.4 1039.1,1427.6 1040.0,1428.6 1040.9,1429.1 1041.8,1429.2 1042.7,1429.2 1043.6,1431.6 1044.5,1432.7 1045.4,1426.3 1046.3,1433.7 1047.2,1429.9 1048.1,1431.6 1049.0,1427.9 1049.9,1429.4 1050.8,1429.4 1051.7,1429.2 1052.6,1430.7 1053.5,1430.4 1054.4,1427.2 1055.3,1428.4 1056.2,1430.3 1057.1,1430.5 1058.0,1428.5 1058.9,1428.3 1059.8,1428.5 1060.7,1426.7 1061.6,1426.0 1062.5,1431.6 1063.4,1428.5 1064.3,1429.0 1065.2,1427.4 1066.1,1431.2 1067.0,1432.7 1067.9,1429.0 1068.8,1429.9 1069.7,1427.5 1070.6,1432.1 1071.5,1431.2 1072.4,1427.5 1073.3,1431.1 1074.2,1429.9 1075.1,1429.8 1076.0,1429.7 1076.9,1427.6 1077.8,1427.6 1078.7,1429.8 1079.6,1428.9 1080.5,1426.9 1081.4,1432.5 1082.3,1428.9 1083.2,1427.7 1084.1,1427.2 1085.0,1429.9 1085.9,1430.9 1086.8,1429.6 1087.7,1430.6 1088.6,1426.1 1089.5,1427.6 1090.4,1427.6 1091.3,1428.6 1092.2,1429.7 1093.1,1424.8 1094.0,1434.3 1094.9,1427.8 1095.8,1429.2 1096.7,1430.4 1097.6,1430.6 1098.5,1429.4 1099.4,1423.0 1100.3,1425.7 1101.2,1429.7 1102.1,1427.0 1103.0,1426.3 1103.9,1423.6 1104.8,1430.3 1105.7,1429.9 1106.6,1427.0 1107.5,1428.1 1108.4,1428.3 1109.3,1426.3 1110.2,1427.7 1111.1,1428.9 1112.0,1429.7 1112.9,1431.2 1113.8,1429.0 1114.7,1427.7 1115.6,1429.2 1116.5,1427.3 1117.4,1425.8 1118.3,1430.3 1119.2,1428.0 1120.1,1428.6 1121.0,1429.8 1121.9,1426.5 1122.0,1429.4 1122.8,1429.5 1123.7,1428.4 1124.6,1429.2 1125.5,1427.0 1126.4,1423.8 1127.3,1427.1 1128.2,1426.3 1129.1,1429.7 1130.0,1429.0 1130.9,1427.3 1131.8,1428.2 1132.7,1430.9 1133.6,1430.9 1134.5,1429.3 1135.4,1429.2 1136.3,1427.8 1137.2,1427.8 1138.1,1429.3 1139.0,1428.0 1139.9,1428.7 1140.8,1426.0 1141.7,1424.4 1142.6,1424.1 1143.5,1426.6 1144.4,1430.4 1145.3,1430.7 1146.2,1426.4 1147.1,1424.6 1148.0,1429.0 1148.9,1429.0 1149.8,1425.4 1150.7,1429.6 1151.6,1428.5 1152.5,1430.6 1153.4,1428.9 1154.3,1429.7 1155.2,1428.7 1156.1,1426.0 1157.0,1427.0 1157.9,1426.3 1158.8,1429.2 1159.7,1426.0 1160.6,1424.4 1161.5,1428.5 1162.4,1430.1 1163.3,1430.9 1164.2,1430.3 1165.1,1425.0 1166.0,1425.8 1166.9,1426.2 1167.8,1427.3 1168.7,1423.2 1169.6,1426.9 1170.5,1428.0 1171.4,1425.7 1172.3,1427.4 1173.2,1429.8 1174.1,1427.9 1175.0,1429.6 1175.9,1429.7 1176.8,1428.5 1177.7,1428.3 1178.6,1426.8 1179.5,1429.7 1180.4,1426.7 1181.3,1425.8 1182.2,1428.5 1183.1,1426.0 1184.0,1427.9 1184.9,1429.4 1185.8,1427.7 1186.7,1427.5 1187.6,1429.0 1188.5,1428.9 1189.4,1424.4 1190.3,1424.1 1191.2,1429.3 1192.1,1428.2 1193.0,1423.1 1193.9,1423.8 1194.8,1426.6 1195.7,1425.0 1196.6,1427.6 1197.5,1427.2 1198.4,1428.0 1199.3,1424.8 1200.2,1427.9 1201.1,1430.9 1202.0,1425.9 1202.9,1429.4 1203.8,1429.2 1204.7,1428.5 1205.6,1427.0 1206.5,1424.6 1207.4,1424.7 1208.3,1428.0 1209.2,1428.9 1210.1,1429.5 1211.0,1429.1 1211.9,1428.9 1212.8,1426.2 1213.7,1424.2 1214.6,1426.7 1215.5,1427.7 1216.4,1427.0 1217.3,1423.7 1218.2,1425.1 1219.1,1423.5 1220.0,1426.4 1220.9,1424.5 1221.6,1425.9 1221.8,1427.2 1222.7,1427.5 1223.6,1430.4 1224.5,1426.4 1225.4,1424.1 1226.3,1430.4 1227.2,1432.6 1228.1,1433.5 1229.0,1431.7 1229.9,1432.4 1230.8,1432.1 1231.7,1429.7 1232.6,1431.2 1233.5,1434.0 1234.4,1432.7 1235.3,1437.8 1236.2,1432.2 1237.1,1434.0 1237.9,1437.7 1238.0,1434.8 1238.9,1433.3 1239.8,1432.6 1240.7,1433.7 1241.6,1438.3 1242.5,1436.8 1243.4,1436.7 1244.3,1434.7 1245.2,1437.0 1246.1,1435.9 1247.0,1433.7 1247.9,1434.3 1248.8,1435.6 1249.7,1437.7 1250.6,1435.6 1251.5,1436.4 1252.4,1439.5 1253.3,1434.3 1254.2,1432.7 1255.1,1436.8 1256.0,1436.3 1256.9,1435.2 1257.8,1435.7 1258.7,1434.6 1259.6,1436.1 1260.5,1434.6 1261.4,1436.6 1262.3,1433.0 1263.2,1433.1 1264.1,1435.0 1265.0,1434.1 1265.9,1436.2 1266.8,1435.1 1267.7,1433.9 1268.6,1435.2 1269.5,1433.9 1270.4,1431.7 1271.3,1432.1 1272.2,1432.8 1273.1,1433.6 1274.0,1434.8 1274.9,1436.6 1275.8,1436.1 1276.7,1438.5 1277.6,1437.8 1278.5,1434.8 1279.4,1438.0 1280.3,1437.5 1281.2,1434.2 1282.1,1435.2 1283.0,1436.8 1283.9,1435.4 1284.8,1436.7 1285.7,1435.6 1286.6,1436.1 1287.5,1434.1 1288.4,1435.2 1289.3,1433.8 1290.2,1435.7 1291.1,1431.2 1292.0,1434.6 1292.9,1436.9 1293.8,1435.9 1294.7,1434.5 1295.6,1435.4 1296.5,1432.8 1297.4,1432.4 1298.3,1433.2 1299.2,1433.8 1300.1,1436.0 1301.0,1432.7 1301.9,1435.9 1302.8,1431.3 1303.0,1432.1 1303.7,1433.6 1304.6,1436.0 1305.5,1432.7 1306.4,1429.0 1307.3,1433.3 1308.2,1432.9 1309.1,1430.6 1310.0,1430.1 1310.9,1430.6 1311.8,1432.0 1312.7,1433.2 1313.6,1428.9 1314.5,1435.6 1315.4,1431.8 1316.3,1430.4 1317.2,1432.1 1318.1,1431.0 1319.0,1435.1 1319.9,1433.1 1320.8,1429.7 1321.7,1429.0 1322.6,1428.5 1323.5,1428.5 1324.4,1430.4 1325.3,1427.9 1326.2,1431.8 1327.1,1428.8 1328.0,1428.1 1328.9,1430.0 1329.8,1424.3 1330.7,1425.3 1331.6,1428.3 1332.5,1427.4 1333.4,1427.1 1334.3,1427.7 1335.2,1425.6 1336.1,1426.0 1337.0,1423.5 1337.9,1421.9 1338.8,1427.7 1339.7,1424.1 1340.6,1423.8 1341.5,1427.7 1342.0,1427.6 1342.4,1424.4 1343.3,1423.9 1344.2,1424.8 1345.1,1423.2 1346.0,1425.9 1346.9,1425.5 1347.8,1425.4 1348.7,1426.6 1349.6,1426.7 1350.5,1429.0 1351.4,1428.7 1352.3,1422.2 1353.2,1426.4 1354.1,1423.1 1355.0,1422.0 1355.9,1426.0 1356.8,1423.8 1357.7,1424.3 1358.6,1427.1 1359.5,1424.1 1360.4,1423.2 1361.3,1425.4 1362.2,1427.6 1363.1,1426.5 1364.0,1422.2 1364.9,1423.4 1365.8,1424.5 1366.7,1428.8 1367.6,1427.4 1368.5,1427.1 1369.4,1427.8 1370.3,1424.9 1371.2,1426.0 1372.1,1426.2 1373.0,1423.3 1373.9,1424.8 1374.8,1426.2 1375.7,1423.1 1376.6,1426.4 1377.5,1426.8 1378.4,1427.4 1379.3,1423.9 1380.2,1425.1 1381.1,1428.0 1382.0,1427.1 1382.9,1423.8 1383.8,1425.3 1384.7,1427.9 1385.6,1425.4 1386.5,1425.9 1387.4,1430.3 1387.6,1425.8 1388.3,1425.3 1389.2,1423.8 1390.1,1424.7 1391.0,1429.4 1391.9,1427.2 1392.8,1425.2 1393.7,1425.8 1394.6,1428.0 1395.5,1430.2 1396.4,1428.0 1397.3,1430.8 1398.2,1429.3 1399.1,1431.1 1400.0,1432.0 1400.9,1432.7 1401.8,1431.1 1402.7,1431.7 1403.6,1433.5 1404.5,1430.6 1405.4,1433.4 1406.3,1434.8 1407.2,1436.4 1408.1,1434.9 1409.0,1434.7 1409.9,1435.7 1410.8,1434.5 1411.7,1435.7 1412.6,1437.5 1413.5,1437.8 1413.6,1435.2 1414.4,1436.0 1415.3,1432.4 1416.2,1437.4 1417.1,1435.3 1418.0,1436.2 1418.9,1433.5 1419.8,1434.9 1420.7,1435.9 1421.6,1436.9 1422.5,1432.2 1423.4,1435.6 1424.3,1433.9 1425.2,1432.2 1426.1,1434.2 1427.0,1432.8 1427.9,1432.3 1428.8,1431.2 1429.7,1432.7 1430.6,1432.3 1431.5,1431.6 1432.4,1429.7 1433.3,1430.1 1434.2,1431.8 1435.1,1433.5 1436.0,1431.0 1436.9,1433.2 1437.8,1430.5 1438.7,1427.7 1439.6,1430.5 1440.5,1427.5 1441.4,1429.6 1442.3,1431.0 1443.2,1428.2 1444.1,1428.0 1445.0,1432.8 1445.9,1428.9 1446.8,1428.2 1447.7,1428.9 1448.6,1427.0 1449.5,1426.5 1450.4,1427.2 1451.3,1421.5 1452.2,1428.0 1452.7,1424.0 1453.1,1423.8 1454.0,1427.8 1454.9,1428.1 1455.8,1426.4 1456.7,1429.8 1457.6,1428.4 1458.5,1429.8 1459.4,1429.2 1460.3,1431.2 1461.2,1434.7 1462.1,1435.5 1463.0,1436.7 1463.9,1438.9 1464.8,1438.1 1465.7,1437.5 1465.7,1438.0 1466.6,1441.5 1467.5,1438.5 1468.4,1438.3 1469.3,1437.2 1470.2,1437.3 1471.1,1437.4 1472.0,1436.2 1472.9,1435.4 1473.8,1433.8 1474.7,1433.1 1475.6,1435.1 1476.5,1435.8 1477.4,1435.9 1478.3,1433.9 1479.2,1431.5 1480.1,1433.7 1481.0,1433.7 1481.9,1429.2 1482.8,1432.8 1483.7,1432.5 1484.6,1434.3 1485.0,1429.0 1485.5,1428.6 1486.4,1433.8 1487.3,1430.6 1488.2,1433.4 1489.1,1434.2 1490.0,1435.6 1490.0,1433.8" fill="none" stroke="#000" stroke-width="2.7" stroke-linejoin="round"/>
<text transform="translate(-3.53,1625.80) scale(0.9655,1)" font-size="54.11" font-weight="bold" fill="#000">D</text>
<path d="M148,1682.0 H161.3 V2243.1 H889.9" fill="none" stroke="#000" stroke-width="2.2"/>
<line x1="148" y1="2102.824" x2="161.3" y2="2102.824" stroke="#000" stroke-width="2.2"/>
<line x1="148" y1="1962.5479999999998" x2="161.3" y2="1962.5479999999998" stroke="#000" stroke-width="2.2"/>
<line x1="148" y1="1822.272" x2="161.3" y2="1822.272" stroke="#000" stroke-width="2.2"/>
<line x1="322.8" y1="2243.1" x2="322.8" y2="2256" stroke="#000" stroke-width="2.2"/>
<line x1="484.3" y1="2243.1" x2="484.3" y2="2256" stroke="#000" stroke-width="2.2"/>
<line x1="645.8" y1="2243.1" x2="645.8" y2="2256" stroke="#000" stroke-width="2.2"/>
<line x1="807.3" y1="2243.1" x2="807.3" y2="2256" stroke="#000" stroke-width="2.2"/>
<line x1="161.3" y1="2243.1" x2="161.3" y2="2256" stroke="#000" stroke-width="2.2"/>
<text transform="translate(68.17,1696.27) scale(0.9531,1)" font-size="42.83" fill="#000">800</text>
<text transform="translate(67.85,1836.27) scale(0.9608,1)" font-size="42.69" fill="#000">600</text>
<text transform="translate(68.18,1976.48) scale(0.9754,1)" font-size="41.84" fill="#000">400</text>
<text transform="translate(67.85,2117.08) scale(0.9737,1)" font-size="42.12" fill="#000">200</text>
<text transform="translate(113.93,2256.78) scale(0.9961,1)" font-size="41.84" fill="#000">0</text>
<text transform="translate(142.39,2320.30) scale(1.0137,1)" font-size="41.80" fill="#000">-8</text>
<text transform="translate(303.81,2320.30) scale(1.0052,1)" font-size="41.80" fill="#000">-7</text>
<text transform="translate(464.99,2320.30) scale(1.0137,1)" font-size="41.80" fill="#000">-6</text>
<text transform="translate(627.30,2320.30) scale(1.0075,1)" font-size="41.80" fill="#000">-5</text>
<text transform="translate(788.73,2320.30) scale(0.9950,1)" font-size="41.80" fill="#000">-4</text>
<text transform="translate(409.59,2382.80) scale(0.9712,1)" font-size="42.62" fill="#000">Log [PE] (M)</text>
<text transform="translate(35.40,2068.00) rotate(-90) scale(0.9481,1)" font-size="42.76">Area (mN.s)</text>
<line x1="399.8355" y1="2118.8" x2="399.8355" y2="2175.2" stroke="#111" stroke-width="2.2"/>
<line x1="385.3355" y1="2118.8" x2="414.3355" y2="2118.8" stroke="#111" stroke-width="2.2"/>
<line x1="385.3355" y1="2175.2" x2="414.3355" y2="2175.2" stroke="#111" stroke-width="2.2"/>
<line x1="484.3" y1="1983.8" x2="484.3" y2="2058.2" stroke="#111" stroke-width="2.2"/>
<line x1="469.8" y1="1983.8" x2="498.8" y2="1983.8" stroke="#111" stroke-width="2.2"/>
<line x1="469.8" y1="2058.2" x2="498.8" y2="2058.2" stroke="#111" stroke-width="2.2"/>
<line x1="561.3355000000001" y1="1839.0" x2="561.3355000000001" y2="1952.4" stroke="#111" stroke-width="2.2"/>
<line x1="546.8355000000001" y1="1839.0" x2="575.8355000000001" y2="1839.0" stroke="#111" stroke-width="2.2"/>
<line x1="546.8355000000001" y1="1952.4" x2="575.8355000000001" y2="1952.4" stroke="#111" stroke-width="2.2"/>
<line x1="645.8" y1="1727.1" x2="645.8" y2="1885.5" stroke="#111" stroke-width="2.2"/>
<line x1="631.3" y1="1727.1" x2="660.3" y2="1727.1" stroke="#111" stroke-width="2.2"/>
<line x1="631.3" y1="1885.5" x2="660.3" y2="1885.5" stroke="#111" stroke-width="2.2"/>
<line x1="722.8355000000001" y1="1742.5" x2="722.8355000000001" y2="1907.6999999999998" stroke="#111" stroke-width="2.2"/>
<line x1="708.3355000000001" y1="1742.5" x2="737.3355000000001" y2="1742.5" stroke="#111" stroke-width="2.2"/>
<line x1="708.3355000000001" y1="1907.6999999999998" x2="737.3355000000001" y2="1907.6999999999998" stroke="#111" stroke-width="2.2"/>
<rect x="223.7" y="2222.6" width="29.2" height="29.2" fill="#878787" stroke="#111" stroke-width="2.2"/>
<rect x="308.2" y="2200.9" width="29.2" height="29.2" fill="#878787" stroke="#111" stroke-width="2.2"/>
<rect x="385.2" y="2132.4" width="29.2" height="29.2" fill="#878787" stroke="#111" stroke-width="2.2"/>
<rect x="469.7" y="2006.4" width="29.2" height="29.2" fill="#878787" stroke="#111" stroke-width="2.2"/>
<rect x="546.7" y="1881.1" width="29.2" height="29.2" fill="#878787" stroke="#111" stroke-width="2.2"/>
<rect x="631.2" y="1791.7" width="29.2" height="29.2" fill="#878787" stroke="#111" stroke-width="2.2"/>
<rect x="708.2" y="1810.5" width="29.2" height="29.2" fill="#878787" stroke="#111" stroke-width="2.2"/>
<line x1="399.8355" y1="2092.0" x2="399.8355" y2="2132.6000000000004" stroke="#2a2a2a" stroke-width="2.2"/>
<line x1="385.3355" y1="2092.0" x2="414.3355" y2="2092.0" stroke="#2a2a2a" stroke-width="2.2"/>
<line x1="385.3355" y1="2132.6000000000004" x2="414.3355" y2="2132.6000000000004" stroke="#2a2a2a" stroke-width="2.2"/>
<line x1="484.3" y1="1942.4" x2="484.3" y2="2007.6" stroke="#2a2a2a" stroke-width="2.2"/>
<line x1="469.8" y1="1942.4" x2="498.8" y2="1942.4" stroke="#2a2a2a" stroke-width="2.2"/>
<line x1="469.8" y1="2007.6" x2="498.8" y2="2007.6" stroke="#2a2a2a" stroke-width="2.2"/>
<line x1="561.3355000000001" y1="1813.4" x2="561.3355000000001" y2="1909.0" stroke="#2a2a2a" stroke-width="2.2"/>
<line x1="546.8355000000001" y1="1813.4" x2="575.8355000000001" y2="1813.4" stroke="#2a2a2a" stroke-width="2.2"/>
<line x1="546.8355000000001" y1="1909.0" x2="575.8355000000001" y2="1909.0" stroke="#2a2a2a" stroke-width="2.2"/>
<line x1="645.8" y1="1782" x2="645.8" y2="1886" stroke="#2a2a2a" stroke-width="2.2"/>
<line x1="631.3" y1="1782" x2="660.3" y2="1782" stroke="#2a2a2a" stroke-width="2.2"/>
<line x1="631.3" y1="1886" x2="660.3" y2="1886" stroke="#2a2a2a" stroke-width="2.2"/>
<line x1="722.8355000000001" y1="1718.8" x2="722.8355000000001" y2="1847.3999999999999" stroke="#2a2a2a" stroke-width="2.2"/>
<line x1="708.3355000000001" y1="1718.8" x2="737.3355000000001" y2="1718.8" stroke="#2a2a2a" stroke-width="2.2"/>
<line x1="708.3355000000001" y1="1847.3999999999999" x2="737.3355000000001" y2="1847.3999999999999" stroke="#2a2a2a" stroke-width="2.2"/>
<path d="M238.3,2231.5 240.8,2230.8 243.2,2230.1 245.6,2229.4 248.1,2228.7 250.5,2228.0 252.9,2227.2 255.4,2226.4 257.8,2225.6 260.2,2224.7 262.7,2223.8 265.1,2222.9 267.6,2222.0 270.0,2221.1 272.4,2220.1 274.9,2219.1 277.3,2218.0 279.7,2216.9 282.2,2215.8 284.6,2214.7 287.0,2213.5 289.5,2212.3 291.9,2211.0 294.3,2209.7 296.8,2208.4 299.2,2207.0 301.6,2205.6 304.1,2204.2 306.5,2202.7 308.9,2201.2 311.4,2199.6 313.8,2198.0 316.2,2196.3 318.7,2194.6 321.1,2192.9 323.5,2191.1 326.0,2189.3 328.4,2187.4 330.9,2185.4 333.3,2183.4 335.7,2181.4 338.2,2179.3 340.6,2177.2 343.0,2175.0 345.5,2172.7 347.9,2170.5 350.3,2168.1 352.8,2165.7 355.2,2163.3 357.6,2160.7 360.1,2158.2 362.5,2155.6 364.9,2152.9 367.4,2150.2 369.8,2147.4 372.2,2144.6 374.7,2141.7 377.1,2138.7 379.5,2135.7 382.0,2132.7 384.4,2129.6 386.9,2126.4 389.3,2123.2 391.7,2119.9 394.2,2116.6 396.6,2113.3 399.0,2109.9 401.5,2106.4 403.9,2102.9 406.3,2099.4 408.8,2095.8 411.2,2092.2 413.6,2088.5 416.1,2084.8 418.5,2081.0 420.9,2077.2 423.4,2073.4 425.8,2069.6 428.2,2065.7 430.7,2061.8 433.1,2057.9 435.5,2053.9 438.0,2049.9 440.4,2045.9 442.8,2041.9 445.3,2037.9 447.7,2033.9 450.2,2029.8 452.6,2025.8 455.0,2021.7 457.5,2017.6 459.9,2013.6 462.3,2009.5 464.8,2005.4 467.2,2001.4 469.6,1997.4 472.1,1993.3 474.5,1989.3 476.9,1985.3 479.4,1981.4 481.8,1977.4 484.2,1973.5 486.7,1969.6 489.1,1965.7 491.5,1961.8 494.0,1958.0 496.4,1954.3 498.8,1950.5 501.3,1946.8 503.7,1943.1 506.1,1939.5 508.6,1935.9 511.0,1932.4 513.5,1928.9 515.9,1925.4 518.3,1922.0 520.8,1918.7 523.2,1915.4 525.6,1912.1 528.1,1908.9 530.5,1905.8 532.9,1902.7 535.4,1899.6 537.8,1896.6 540.2,1893.7 542.7,1890.8 545.1,1888.0 547.5,1885.2 550.0,1882.5 552.4,1879.8 554.8,1877.2 557.3,1874.7 559.7,1872.2 562.1,1869.7 564.6,1867.3 567.0,1865.0 569.5,1862.7 571.9,1860.5 574.3,1858.3 576.8,1856.1 579.2,1854.1 581.6,1852.0 584.1,1850.0 586.5,1848.1 588.9,1846.2 591.4,1844.4 593.8,1842.6 596.2,1840.9 598.7,1839.2 601.1,1837.5 603.5,1835.9 606.0,1834.3 608.4,1832.8 610.8,1831.3 613.3,1829.9 615.7,1828.5 618.1,1827.1 620.6,1825.8 623.0,1824.5 625.4,1823.3 627.9,1822.1 630.3,1820.9 632.8,1819.7 635.2,1818.6 637.6,1817.6 640.1,1816.5 642.5,1815.5 644.9,1814.5 647.4,1813.6 649.8,1812.6 652.2,1811.7 654.7,1810.9 657.1,1810.0 659.5,1809.2 662.0,1808.4 664.4,1807.6 666.8,1806.9 669.3,1806.2 671.7,1805.5 674.1,1804.8 676.6,1804.1 679.0,1803.5 681.4,1802.9 683.9,1802.3 686.3,1801.7 688.8,1801.2 691.2,1800.6 693.6,1800.1 696.1,1799.6 698.5,1799.1 700.9,1798.6 703.4,1798.2 705.8,1797.7 708.2,1797.3 710.7,1796.9 713.1,1796.5 715.5,1796.1 718.0,1795.7 720.4,1795.3 722.8,1795.0" fill="none" stroke="#2a2a2a" stroke-width="2.2"/>
<circle cx="238.3" cy="2231.2" r="14.5" fill="#fff" stroke="#2a2a2a" stroke-width="2.1"/>
<circle cx="322.8" cy="2186.3" r="14.5" fill="#fff" stroke="#2a2a2a" stroke-width="2.1"/>
<circle cx="399.8" cy="2112.3" r="14.5" fill="#fff" stroke="#2a2a2a" stroke-width="2.1"/>
<circle cx="484.3" cy="1975.0" r="14.5" fill="#fff" stroke="#2a2a2a" stroke-width="2.1"/>
<circle cx="561.3" cy="1861.2" r="14.5" fill="#fff" stroke="#2a2a2a" stroke-width="2.1"/>
<circle cx="645.8" cy="1834.0" r="14.5" fill="#fff" stroke="#2a2a2a" stroke-width="2.1"/>
<circle cx="722.8" cy="1783.1" r="14.5" fill="#fff" stroke="#2a2a2a" stroke-width="2.1"/>
<path d="M238.3,2235.3 240.8,2235.0 243.2,2234.7 245.6,2234.3 248.1,2234.0 250.5,2233.6 252.9,2233.3 255.4,2232.9 257.8,2232.5 260.2,2232.1 262.7,2231.6 265.1,2231.2 267.6,2230.7 270.0,2230.2 272.4,2229.7 274.9,2229.2 277.3,2228.7 279.7,2228.1 282.2,2227.5 284.6,2226.9 287.0,2226.3 289.5,2225.6 291.9,2224.9 294.3,2224.2 296.8,2223.5 299.2,2222.7 301.6,2221.9 304.1,2221.1 306.5,2220.2 308.9,2219.4 311.4,2218.4 313.8,2217.5 316.2,2216.5 318.7,2215.5 321.1,2214.4 323.5,2213.3 326.0,2212.2 328.4,2211.0 330.9,2209.8 333.3,2208.5 335.7,2207.2 338.2,2205.8 340.6,2204.4 343.0,2202.9 345.5,2201.4 347.9,2199.9 350.3,2198.3 352.8,2196.6 355.2,2194.9 357.6,2193.1 360.1,2191.3 362.5,2189.4 364.9,2187.5 367.4,2185.5 369.8,2183.4 372.2,2181.3 374.7,2179.1 377.1,2176.8 379.5,2174.5 382.0,2172.1 384.4,2169.6 386.9,2167.1 389.3,2164.5 391.7,2161.8 394.2,2159.1 396.6,2156.3 399.0,2153.4 401.5,2150.5 403.9,2147.4 406.3,2144.3 408.8,2141.2 411.2,2137.9 413.6,2134.6 416.1,2131.3 418.5,2127.8 420.9,2124.3 423.4,2120.7 425.8,2117.1 428.2,2113.4 430.7,2109.6 433.1,2105.8 435.5,2101.9 438.0,2097.9 440.4,2093.9 442.8,2089.9 445.3,2085.8 447.7,2081.6 450.2,2077.4 452.6,2073.1 455.0,2068.8 457.5,2064.5 459.9,2060.2 462.3,2055.8 464.8,2051.3 467.2,2046.9 469.6,2042.4 472.1,2038.0 474.5,2033.5 476.9,2029.0 479.4,2024.5 481.8,2020.0 484.2,2015.4 486.7,2010.9 489.1,2006.5 491.5,2002.0 494.0,1997.5 496.4,1993.1 498.8,1988.7 501.3,1984.3 503.7,1979.9 506.1,1975.6 508.6,1971.3 511.0,1967.1 513.5,1962.9 515.9,1958.7 518.3,1954.6 520.8,1950.6 523.2,1946.6 525.6,1942.6 528.1,1938.7 530.5,1934.9 532.9,1931.1 535.4,1927.4 537.8,1923.8 540.2,1920.2 542.7,1916.7 545.1,1913.3 547.5,1909.9 550.0,1906.6 552.4,1903.4 554.8,1900.3 557.3,1897.2 559.7,1894.2 562.1,1891.2 564.6,1888.4 567.0,1885.6 569.5,1882.8 571.9,1880.2 574.3,1877.6 576.8,1875.1 579.2,1872.6 581.6,1870.2 584.1,1867.9 586.5,1865.7 588.9,1863.5 591.4,1861.3 593.8,1859.3 596.2,1857.3 598.7,1855.3 601.1,1853.5 603.5,1851.6 606.0,1849.9 608.4,1848.2 610.8,1846.5 613.3,1844.9 615.7,1843.4 618.1,1841.9 620.6,1840.4 623.0,1839.0 625.4,1837.7 627.9,1836.4 630.3,1835.1 632.8,1833.9 635.2,1832.7 637.6,1831.6 640.1,1830.5 642.5,1829.4 644.9,1828.4 647.4,1827.4 649.8,1826.4 652.2,1825.5 654.7,1824.6 657.1,1823.8 659.5,1823.0 662.0,1822.2 664.4,1821.4 666.8,1820.7 669.3,1820.0 671.7,1819.3 674.1,1818.7 676.6,1818.0 679.0,1817.4 681.4,1816.8 683.9,1816.3 686.3,1815.7 688.8,1815.2 691.2,1814.7 693.6,1814.2 696.1,1813.8 698.5,1813.3 700.9,1812.9 703.4,1812.5 705.8,1812.1 708.2,1811.7 710.7,1811.3 713.1,1811.0 715.5,1810.6 718.0,1810.3 720.4,1810.0 722.8,1809.7" fill="none" stroke="#000" stroke-width="2.5"/>
<circle cx="206.8" cy="1708.9" r="14.5" fill="#fff" stroke="#2a2a2a" stroke-width="2.1"/>
<text transform="translate(260.58,1722.60) scale(1.0187,1)" font-size="40.73" fill="#000">PE</text>
<line x1="181" y1="1768.2" x2="232.6" y2="1768.2" stroke="#111" stroke-width="2.2"/>
<rect x="192.2" y="1753.6" width="29" height="29" fill="#878787" stroke="#111" stroke-width="2.2"/>
<text transform="translate(262.90,1782.00) scale(0.9631,1)" font-size="41.75" fill="#000">Ani9+PE</text>
<text transform="translate(938.24,1626.90) scale(0.7283,1)" font-size="56.15" font-weight="bold" fill="#000">E</text>
<text transform="translate(1172.42,1708.50) scale(1.0586,1)" font-size="40.37" fill="#000">ns</text>
<path d="M1145.6,1765 V1732.3 H1245.1 V1765" fill="none" stroke="#000" stroke-width="2.4"/>
<path d="M1055,1764.4 H1074.2 V2251.2 H1321.5" fill="none" stroke="#000" stroke-width="2.2"/>
<line x1="1055" y1="2251.2" x2="1074.2" y2="2251.2" stroke="#000" stroke-width="2.2"/>
<line x1="1055" y1="2129.5" x2="1074.2" y2="2129.5" stroke="#000" stroke-width="2.2"/>
<line x1="1055" y1="2007.8" x2="1074.2" y2="2007.8" stroke="#000" stroke-width="2.2"/>
<line x1="1055" y1="1886.1" x2="1074.2" y2="1886.1" stroke="#000" stroke-width="2.2"/>
<text transform="translate(997.91,2264.41) scale(0.9675,1)" font-size="38.59" fill="#000">0.0</text>
<text transform="translate(998.52,2142.71) scale(0.9575,1)" font-size="38.59" fill="#000">0.5</text>
<text transform="translate(998.96,2021.01) scale(0.9474,1)" font-size="38.59" fill="#000">1.0</text>
<text transform="translate(998.95,1899.31) scale(0.9358,1)" font-size="39.14" fill="#000">1.5</text>
<text transform="translate(997.10,1777.61) scale(0.9829,1)" font-size="38.59" fill="#000">2.0</text>
<text transform="translate(974.50,2184.21) rotate(-90) scale(0.9166,1)" font-size="45.09">Basal tension (mN)</text>
<line x1="1149.7" y1="1805.5" x2="1149.7" y2="1918.6" stroke="#000" stroke-width="2.2"/>
<line x1="1131" y1="1805.5" x2="1168.3" y2="1805.5" stroke="#000" stroke-width="2.2"/>
<line x1="1243.7" y1="1797.3" x2="1243.7" y2="1917" stroke="#000" stroke-width="2.2"/>
<line x1="1226.3" y1="1797.3" x2="1262.7" y2="1797.3" stroke="#000" stroke-width="2.2"/>
<rect x="1114.2" y="1918.6" width="71.8" height="332.5999999999999" fill="#fff" stroke="#000" stroke-width="2.2"/>
<rect x="1208.2" y="1917" width="71.8" height="334.1999999999998" fill="#646464" stroke="#000" stroke-width="2.2"/>
<rect x="1327.3" y="1785.3" width="49.6" height="23.5" fill="#fff" stroke="#000" stroke-width="2.4"/>
<rect x="1327.3" y="1850.3" width="49.6" height="23.3" fill="#646464" stroke="#000" stroke-width="2.4"/>
<text transform="translate(1407.03,1811.00) scale(0.9991,1)" font-size="41.45" fill="#000">Control</text>
<text transform="translate(1407.50,1876.00) scale(0.9805,1)" font-size="41.89" fill="#000">Ani9</text>
</svg></body></html>
